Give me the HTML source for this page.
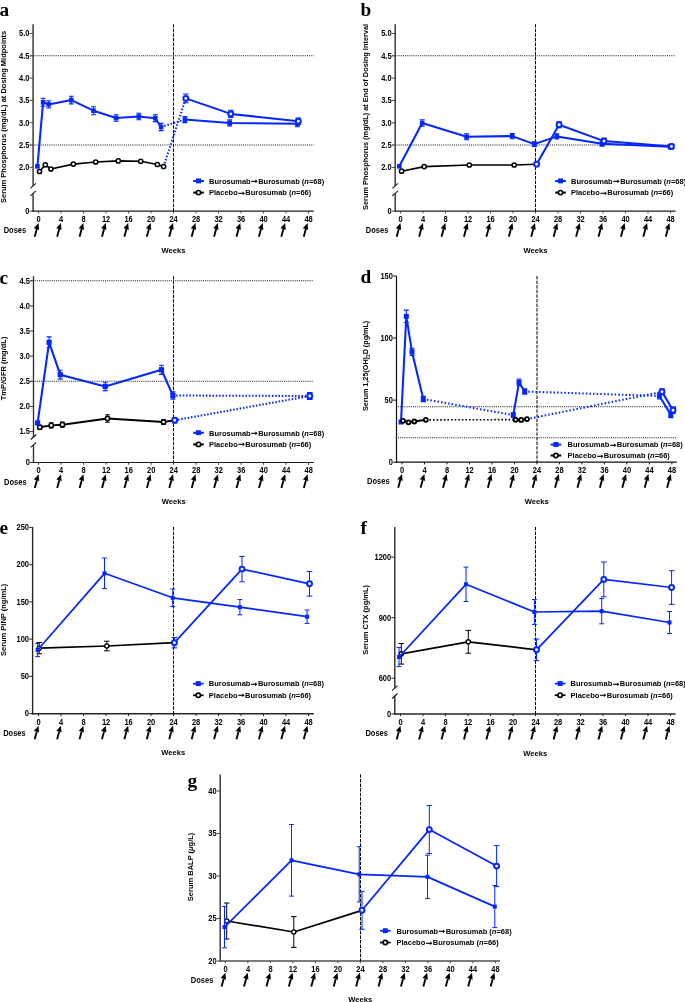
<!DOCTYPE html>
<html lang="en">
<head>
<meta charset="utf-8">
<title>Figure: burosumab vs placebo, serum markers over 48 weeks</title>
<style>
html,body{margin:0;padding:0;background:#fff;}
body{width:685px;height:1002px;overflow:hidden;}
svg{display:block;}
.t{font-family:"Liberation Sans",Arial,Helvetica,sans-serif;font-weight:bold;font-size:8.3px;fill:#000;}
.yl{font-family:"Liberation Sans",Arial,Helvetica,sans-serif;font-weight:bold;font-size:7.5px;fill:#000;}
.wk{font-family:"Liberation Sans",Arial,Helvetica,sans-serif;font-weight:bold;font-size:7.6px;fill:#000;}
.lg{font-family:"Liberation Sans",Arial,Helvetica,sans-serif;font-weight:bold;font-size:8px;fill:#000;}
.ar{font-size:10.3px;stroke:#000;stroke-width:0.45px;}
.pl{font-family:"Liberation Serif","Times New Roman",Times,serif;font-weight:bold;font-size:19.3px;fill:#000;}
</style>
</head>
<body>
<svg width="685" height="1002" viewBox="0 0 685 1002">
<rect width="685" height="1002" fill="#fff"/>
<g>
<text class="pl" x="-0.4" y="16">a</text>
<line x1="30.1" y1="55.83" x2="313.8" y2="55.83" stroke="#111" stroke-width="1.05" stroke-dasharray="1 1.13"/>
<line x1="30.1" y1="145.09" x2="313.8" y2="145.09" stroke="#111" stroke-width="1.05" stroke-dasharray="1 1.13"/>
<line x1="33.1" y1="24.2" x2="33.1" y2="185.8" stroke="#484848" stroke-width="1.6"/>
<line x1="33.1" y1="193.4" x2="33.1" y2="212" stroke="#484848" stroke-width="1.6"/>
<line x1="30.3" y1="188.3" x2="35.9" y2="183.3" stroke="#1a1a1a" stroke-width="1.1"/>
<line x1="30.3" y1="195.9" x2="35.9" y2="190.9" stroke="#1a1a1a" stroke-width="1.1"/>
<line x1="32.3" y1="211.2" x2="313.8" y2="211.2" stroke="#1c1c1c" stroke-width="1.2"/>
<line x1="29.7" y1="167.4" x2="33.1" y2="167.4" stroke="#484848" stroke-width="1"/>
<text class="t" transform="translate(29.5 170.25) scale(0.904 1)" text-anchor="end">2.0</text>
<line x1="29.7" y1="145.09" x2="33.1" y2="145.09" stroke="#484848" stroke-width="1"/>
<text class="t" transform="translate(29.5 147.94) scale(0.904 1)" text-anchor="end">2.5</text>
<line x1="29.7" y1="122.77" x2="33.1" y2="122.77" stroke="#484848" stroke-width="1"/>
<text class="t" transform="translate(29.5 125.62) scale(0.904 1)" text-anchor="end">3.0</text>
<line x1="29.7" y1="100.45" x2="33.1" y2="100.45" stroke="#484848" stroke-width="1"/>
<text class="t" transform="translate(29.5 103.3) scale(0.904 1)" text-anchor="end">3.5</text>
<line x1="29.7" y1="78.14" x2="33.1" y2="78.14" stroke="#484848" stroke-width="1"/>
<text class="t" transform="translate(29.5 80.99) scale(0.904 1)" text-anchor="end">4.0</text>
<line x1="29.7" y1="55.83" x2="33.1" y2="55.83" stroke="#484848" stroke-width="1"/>
<text class="t" transform="translate(29.5 58.68) scale(0.904 1)" text-anchor="end">4.5</text>
<line x1="29.7" y1="33.51" x2="33.1" y2="33.51" stroke="#484848" stroke-width="1"/>
<text class="t" transform="translate(29.5 36.36) scale(0.904 1)" text-anchor="end">5.0</text>
<line x1="29.7" y1="211.2" x2="33.1" y2="211.2" stroke="#484848" stroke-width="1"/>
<text class="t" transform="translate(29.5 214.05) scale(0.904 1)" text-anchor="end">0</text>
<line x1="38.5" y1="211.2" x2="38.5" y2="213.4" stroke="#484848" stroke-width="1"/>
<text class="t" transform="translate(38.6 221.9) scale(0.904 1)" text-anchor="middle">0</text>
<g transform="translate(38.5 223.5)"><path d="M-3.8 13.2L-1.7 5.4" stroke="#000" stroke-width="1.85" fill="none"/><path d="M0 -0.5L0.6 6.4L-1.6 5.4L-4.7 4.8Z" fill="#000"/></g>
<line x1="61" y1="211.2" x2="61" y2="213.4" stroke="#484848" stroke-width="1"/>
<text class="t" transform="translate(61.1 221.9) scale(0.904 1)" text-anchor="middle">4</text>
<g transform="translate(60.92 223.5)"><path d="M-3.8 13.2L-1.7 5.4" stroke="#000" stroke-width="1.85" fill="none"/><path d="M0 -0.5L0.6 6.4L-1.6 5.4L-4.7 4.8Z" fill="#000"/></g>
<line x1="83.5" y1="211.2" x2="83.5" y2="213.4" stroke="#484848" stroke-width="1"/>
<text class="t" transform="translate(83.6 221.9) scale(0.904 1)" text-anchor="middle">8</text>
<g transform="translate(83.34 223.5)"><path d="M-3.8 13.2L-1.7 5.4" stroke="#000" stroke-width="1.85" fill="none"/><path d="M0 -0.5L0.6 6.4L-1.6 5.4L-4.7 4.8Z" fill="#000"/></g>
<line x1="106" y1="211.2" x2="106" y2="213.4" stroke="#484848" stroke-width="1"/>
<text class="t" transform="translate(106.1 221.9) scale(0.904 1)" text-anchor="middle">12</text>
<g transform="translate(105.76 223.5)"><path d="M-3.8 13.2L-1.7 5.4" stroke="#000" stroke-width="1.85" fill="none"/><path d="M0 -0.5L0.6 6.4L-1.6 5.4L-4.7 4.8Z" fill="#000"/></g>
<line x1="128.5" y1="211.2" x2="128.5" y2="213.4" stroke="#484848" stroke-width="1"/>
<text class="t" transform="translate(128.6 221.9) scale(0.904 1)" text-anchor="middle">16</text>
<g transform="translate(128.18 223.5)"><path d="M-3.8 13.2L-1.7 5.4" stroke="#000" stroke-width="1.85" fill="none"/><path d="M0 -0.5L0.6 6.4L-1.6 5.4L-4.7 4.8Z" fill="#000"/></g>
<line x1="151" y1="211.2" x2="151" y2="213.4" stroke="#484848" stroke-width="1"/>
<text class="t" transform="translate(151.1 221.9) scale(0.904 1)" text-anchor="middle">20</text>
<g transform="translate(150.6 223.5)"><path d="M-3.8 13.2L-1.7 5.4" stroke="#000" stroke-width="1.85" fill="none"/><path d="M0 -0.5L0.6 6.4L-1.6 5.4L-4.7 4.8Z" fill="#000"/></g>
<line x1="173.5" y1="211.2" x2="173.5" y2="213.4" stroke="#484848" stroke-width="1"/>
<text class="t" transform="translate(173.6 221.9) scale(0.904 1)" text-anchor="middle">24</text>
<g transform="translate(173.02 223.5)"><path d="M-3.8 13.2L-1.7 5.4" stroke="#000" stroke-width="1.85" fill="none"/><path d="M0 -0.5L0.6 6.4L-1.6 5.4L-4.7 4.8Z" fill="#000"/></g>
<line x1="196" y1="211.2" x2="196" y2="213.4" stroke="#484848" stroke-width="1"/>
<text class="t" transform="translate(196.1 221.9) scale(0.904 1)" text-anchor="middle">28</text>
<g transform="translate(195.44 223.5)"><path d="M-3.8 13.2L-1.7 5.4" stroke="#000" stroke-width="1.85" fill="none"/><path d="M0 -0.5L0.6 6.4L-1.6 5.4L-4.7 4.8Z" fill="#000"/></g>
<line x1="218.5" y1="211.2" x2="218.5" y2="213.4" stroke="#484848" stroke-width="1"/>
<text class="t" transform="translate(218.6 221.9) scale(0.904 1)" text-anchor="middle">32</text>
<g transform="translate(217.86 223.5)"><path d="M-3.8 13.2L-1.7 5.4" stroke="#000" stroke-width="1.85" fill="none"/><path d="M0 -0.5L0.6 6.4L-1.6 5.4L-4.7 4.8Z" fill="#000"/></g>
<line x1="241" y1="211.2" x2="241" y2="213.4" stroke="#484848" stroke-width="1"/>
<text class="t" transform="translate(241.1 221.9) scale(0.904 1)" text-anchor="middle">36</text>
<g transform="translate(240.28 223.5)"><path d="M-3.8 13.2L-1.7 5.4" stroke="#000" stroke-width="1.85" fill="none"/><path d="M0 -0.5L0.6 6.4L-1.6 5.4L-4.7 4.8Z" fill="#000"/></g>
<line x1="263.5" y1="211.2" x2="263.5" y2="213.4" stroke="#484848" stroke-width="1"/>
<text class="t" transform="translate(263.6 221.9) scale(0.904 1)" text-anchor="middle">40</text>
<g transform="translate(262.7 223.5)"><path d="M-3.8 13.2L-1.7 5.4" stroke="#000" stroke-width="1.85" fill="none"/><path d="M0 -0.5L0.6 6.4L-1.6 5.4L-4.7 4.8Z" fill="#000"/></g>
<line x1="286" y1="211.2" x2="286" y2="213.4" stroke="#484848" stroke-width="1"/>
<text class="t" transform="translate(286.1 221.9) scale(0.904 1)" text-anchor="middle">44</text>
<g transform="translate(285.12 223.5)"><path d="M-3.8 13.2L-1.7 5.4" stroke="#000" stroke-width="1.85" fill="none"/><path d="M0 -0.5L0.6 6.4L-1.6 5.4L-4.7 4.8Z" fill="#000"/></g>
<line x1="308.5" y1="211.2" x2="308.5" y2="213.4" stroke="#484848" stroke-width="1"/>
<text class="t" transform="translate(308.6 221.9) scale(0.904 1)" text-anchor="middle">48</text>
<g transform="translate(307.54 223.5)"><path d="M-3.8 13.2L-1.7 5.4" stroke="#000" stroke-width="1.85" fill="none"/><path d="M0 -0.5L0.6 6.4L-1.6 5.4L-4.7 4.8Z" fill="#000"/></g>
<text class="t" transform="translate(3.7 233.2) scale(0.904 1)">Doses</text>
<text class="wk" x="173.55" y="252.8" text-anchor="middle">Weeks</text>
<line x1="173.5" y1="24.2" x2="173.5" y2="211.2" stroke="#000" stroke-width="1.0" stroke-dasharray="3.4 1.2"/>
<text class="yl" text-anchor="middle" transform="translate(5.5 116.9) rotate(-90) scale(1 0.9)">Serum Phosphorus (mg/dL) at Dosing Midpoints</text>
</g>
<g>
<line x1="193.2" y1="181" x2="203.8" y2="181" stroke="#0426ff" stroke-width="2.05"/>
<rect x="196" y="178.45" width="5" height="4.9" fill="#0426ff"/>
<text class="lg" transform="translate(209 183.7) scale(0.9375 1)">Burosumab<tspan class="ar" dx="-1.15" dy="-0.7">&#8594;</tspan><tspan dx="-1.15" dy="0.7">Burosumab (</tspan><tspan font-style="italic">n</tspan>=68)</text>
<line x1="193.2" y1="192.6" x2="203.8" y2="192.6" stroke="#000" stroke-width="2.05"/>
<circle cx="198.5" cy="192.6" r="2.15" fill="#fff" stroke="#000" stroke-width="1.6"/>
<text class="lg" transform="translate(209 195.3) scale(0.9375 1)">Placebo<tspan class="ar" dx="-1.15" dy="-0.7">&#8594;</tspan><tspan dx="-1.15" dy="0.7">Burosumab (</tspan><tspan font-style="italic">n</tspan>=66)</text>
</g>
<polyline fill="none" stroke="#0426ff" stroke-width="2.05" stroke-dasharray="1.5 1.8" stroke-linejoin="round" points="161.1,127 184.9,119.6"/>
<polyline fill="none" stroke="#0426ff" stroke-width="2.05" stroke-dasharray="1.5 1.8" stroke-linejoin="round" points="163.6,166.6 185.8,98.4"/>
<polyline fill="none" stroke="#000" stroke-width="1.65" stroke-linejoin="round" points="39.5,171.5 45.3,164.8 50.9,169 73.4,164.1 95.7,162 118.3,160.9 140.7,161.3 157.4,164.5 163.6,166.6"/>
<circle cx="39.5" cy="171.5" r="2.1" fill="#fff" stroke="#000" stroke-width="1.5"/>
<circle cx="45.3" cy="164.8" r="2.1" fill="#fff" stroke="#000" stroke-width="1.5"/>
<circle cx="50.9" cy="169" r="2.1" fill="#fff" stroke="#000" stroke-width="1.5"/>
<circle cx="73.4" cy="164.1" r="2.1" fill="#fff" stroke="#000" stroke-width="1.5"/>
<circle cx="95.7" cy="162" r="2.1" fill="#fff" stroke="#000" stroke-width="1.5"/>
<circle cx="118.3" cy="160.9" r="2.1" fill="#fff" stroke="#000" stroke-width="1.5"/>
<circle cx="140.7" cy="161.3" r="2.1" fill="#fff" stroke="#000" stroke-width="1.5"/>
<circle cx="157.4" cy="164.5" r="2.1" fill="#fff" stroke="#000" stroke-width="1.5"/>
<circle cx="163.6" cy="166.6" r="2.1" fill="#fff" stroke="#000" stroke-width="1.5"/>
<path d="M40.6 98.3H45.6M43.1 98.3V106.3M40.6 106.3H45.6" stroke="#0426ff" stroke-width="1.1" fill="none"/>
<path d="M46.2 100.8H51.2M48.7 100.8V108M46.2 108H51.2" stroke="#0426ff" stroke-width="1.1" fill="none"/>
<path d="M68.8 96.3H73.8M71.3 96.3V103.9M68.8 103.9H73.8" stroke="#0426ff" stroke-width="1.1" fill="none"/>
<path d="M91 106.7H96M93.5 106.7V114.7M91 114.7H96" stroke="#0426ff" stroke-width="1.1" fill="none"/>
<path d="M113.6 114.8H118.6M116.1 114.8V121.2M113.6 121.2H118.6" stroke="#0426ff" stroke-width="1.1" fill="none"/>
<path d="M136.3 113.3H141.3M138.8 113.3V119.7M136.3 119.7H141.3" stroke="#0426ff" stroke-width="1.1" fill="none"/>
<path d="M152.8 114.8H157.8M155.3 114.8V121.6M152.8 121.6H157.8" stroke="#0426ff" stroke-width="1.1" fill="none"/>
<path d="M158.6 123.4H163.6M161.1 123.4V130.6M158.6 130.6H163.6" stroke="#0426ff" stroke-width="1.1" fill="none"/>
<polyline fill="none" stroke="#0426ff" stroke-width="2.05" stroke-linejoin="round" points="37.4,166.4 43.1,102.3 48.7,104.4 71.3,100.1 93.5,110.7 116.1,118 138.8,116.5 155.3,118.2 161.1,127"/>
<rect x="35.1" y="164.1" width="4.6" height="4.6" fill="#0426ff"/>
<rect x="40.8" y="100" width="4.6" height="4.6" fill="#0426ff"/>
<rect x="46.4" y="102.1" width="4.6" height="4.6" fill="#0426ff"/>
<rect x="69" y="97.8" width="4.6" height="4.6" fill="#0426ff"/>
<rect x="91.2" y="108.4" width="4.6" height="4.6" fill="#0426ff"/>
<rect x="113.8" y="115.7" width="4.6" height="4.6" fill="#0426ff"/>
<rect x="136.5" y="114.2" width="4.6" height="4.6" fill="#0426ff"/>
<rect x="153" y="115.9" width="4.6" height="4.6" fill="#0426ff"/>
<rect x="158.8" y="124.7" width="4.6" height="4.6" fill="#0426ff"/>
<path d="M182.4 116.6H187.4M184.9 116.6V122.6M182.4 122.6H187.4" stroke="#0426ff" stroke-width="1.1" fill="none"/>
<path d="M227.2 119.9H232.2M229.7 119.9V125.9M227.2 125.9H232.2" stroke="#0426ff" stroke-width="1.1" fill="none"/>
<path d="M294.9 120.8H299.9M297.4 120.8V126.8M294.9 126.8H299.9" stroke="#0426ff" stroke-width="1.1" fill="none"/>
<polyline fill="none" stroke="#0426ff" stroke-width="2.05" stroke-linejoin="round" points="184.9,119.6 229.7,122.9 297.4,123.8"/>
<rect x="182.6" y="117.3" width="4.6" height="4.6" fill="#0426ff"/>
<rect x="227.4" y="120.6" width="4.6" height="4.6" fill="#0426ff"/>
<rect x="295.1" y="121.5" width="4.6" height="4.6" fill="#0426ff"/>
<path d="M183 94H188.6M185.8 94V102.8M183 102.8H188.6" stroke="#0426ff" stroke-width="1.1" fill="none"/>
<path d="M228 110.3H233.6M230.8 110.3V117.5M228 117.5H233.6" stroke="#0426ff" stroke-width="1.1" fill="none"/>
<path d="M295.5 118H301.1M298.3 118V124.4M295.5 124.4H301.1" stroke="#0426ff" stroke-width="1.1" fill="none"/>
<polyline fill="none" stroke="#0426ff" stroke-width="2.05" stroke-linejoin="round" points="185.8,98.4 230.8,113.9 298.3,121.2"/>
<circle cx="185.8" cy="98.4" r="2.45" fill="#fff" stroke="#0426ff" stroke-width="2"/>
<circle cx="230.8" cy="113.9" r="2.45" fill="#fff" stroke="#0426ff" stroke-width="2"/>
<circle cx="298.3" cy="121.2" r="2.45" fill="#fff" stroke="#0426ff" stroke-width="2"/>
<g>
<text class="pl" x="360.6" y="16">b</text>
<line x1="392.2" y1="55.83" x2="675.6" y2="55.83" stroke="#111" stroke-width="1.05" stroke-dasharray="1 1.13"/>
<line x1="392.2" y1="145.09" x2="675.6" y2="145.09" stroke="#111" stroke-width="1.05" stroke-dasharray="1 1.13"/>
<line x1="395.2" y1="24.2" x2="395.2" y2="185.8" stroke="#484848" stroke-width="1.6"/>
<line x1="395.2" y1="193.4" x2="395.2" y2="212" stroke="#484848" stroke-width="1.6"/>
<line x1="392.4" y1="188.3" x2="398" y2="183.3" stroke="#1a1a1a" stroke-width="1.1"/>
<line x1="392.4" y1="195.9" x2="398" y2="190.9" stroke="#1a1a1a" stroke-width="1.1"/>
<line x1="394.4" y1="211.2" x2="675.6" y2="211.2" stroke="#1c1c1c" stroke-width="1.2"/>
<line x1="391.8" y1="167.4" x2="395.2" y2="167.4" stroke="#484848" stroke-width="1"/>
<text class="t" transform="translate(391.6 170.25) scale(0.904 1)" text-anchor="end">2.0</text>
<line x1="391.8" y1="145.09" x2="395.2" y2="145.09" stroke="#484848" stroke-width="1"/>
<text class="t" transform="translate(391.6 147.94) scale(0.904 1)" text-anchor="end">2.5</text>
<line x1="391.8" y1="122.77" x2="395.2" y2="122.77" stroke="#484848" stroke-width="1"/>
<text class="t" transform="translate(391.6 125.62) scale(0.904 1)" text-anchor="end">3.0</text>
<line x1="391.8" y1="100.45" x2="395.2" y2="100.45" stroke="#484848" stroke-width="1"/>
<text class="t" transform="translate(391.6 103.3) scale(0.904 1)" text-anchor="end">3.5</text>
<line x1="391.8" y1="78.14" x2="395.2" y2="78.14" stroke="#484848" stroke-width="1"/>
<text class="t" transform="translate(391.6 80.99) scale(0.904 1)" text-anchor="end">4.0</text>
<line x1="391.8" y1="55.83" x2="395.2" y2="55.83" stroke="#484848" stroke-width="1"/>
<text class="t" transform="translate(391.6 58.68) scale(0.904 1)" text-anchor="end">4.5</text>
<line x1="391.8" y1="33.51" x2="395.2" y2="33.51" stroke="#484848" stroke-width="1"/>
<text class="t" transform="translate(391.6 36.36) scale(0.904 1)" text-anchor="end">5.0</text>
<line x1="391.8" y1="211.2" x2="395.2" y2="211.2" stroke="#484848" stroke-width="1"/>
<text class="t" transform="translate(391.6 214.05) scale(0.904 1)" text-anchor="end">0</text>
<line x1="400.5" y1="211.2" x2="400.5" y2="213.4" stroke="#484848" stroke-width="1"/>
<text class="t" transform="translate(400.6 221.9) scale(0.904 1)" text-anchor="middle">0</text>
<g transform="translate(400.5 223.5)"><path d="M-3.8 13.2L-1.7 5.4" stroke="#000" stroke-width="1.85" fill="none"/><path d="M0 -0.5L0.6 6.4L-1.6 5.4L-4.7 4.8Z" fill="#000"/></g>
<line x1="423" y1="211.2" x2="423" y2="213.4" stroke="#484848" stroke-width="1"/>
<text class="t" transform="translate(423.1 221.9) scale(0.904 1)" text-anchor="middle">4</text>
<g transform="translate(422.92 223.5)"><path d="M-3.8 13.2L-1.7 5.4" stroke="#000" stroke-width="1.85" fill="none"/><path d="M0 -0.5L0.6 6.4L-1.6 5.4L-4.7 4.8Z" fill="#000"/></g>
<line x1="445.5" y1="211.2" x2="445.5" y2="213.4" stroke="#484848" stroke-width="1"/>
<text class="t" transform="translate(445.6 221.9) scale(0.904 1)" text-anchor="middle">8</text>
<g transform="translate(445.34 223.5)"><path d="M-3.8 13.2L-1.7 5.4" stroke="#000" stroke-width="1.85" fill="none"/><path d="M0 -0.5L0.6 6.4L-1.6 5.4L-4.7 4.8Z" fill="#000"/></g>
<line x1="468" y1="211.2" x2="468" y2="213.4" stroke="#484848" stroke-width="1"/>
<text class="t" transform="translate(468.1 221.9) scale(0.904 1)" text-anchor="middle">12</text>
<g transform="translate(467.76 223.5)"><path d="M-3.8 13.2L-1.7 5.4" stroke="#000" stroke-width="1.85" fill="none"/><path d="M0 -0.5L0.6 6.4L-1.6 5.4L-4.7 4.8Z" fill="#000"/></g>
<line x1="490.5" y1="211.2" x2="490.5" y2="213.4" stroke="#484848" stroke-width="1"/>
<text class="t" transform="translate(490.6 221.9) scale(0.904 1)" text-anchor="middle">16</text>
<g transform="translate(490.18 223.5)"><path d="M-3.8 13.2L-1.7 5.4" stroke="#000" stroke-width="1.85" fill="none"/><path d="M0 -0.5L0.6 6.4L-1.6 5.4L-4.7 4.8Z" fill="#000"/></g>
<line x1="513" y1="211.2" x2="513" y2="213.4" stroke="#484848" stroke-width="1"/>
<text class="t" transform="translate(513.1 221.9) scale(0.904 1)" text-anchor="middle">20</text>
<g transform="translate(512.6 223.5)"><path d="M-3.8 13.2L-1.7 5.4" stroke="#000" stroke-width="1.85" fill="none"/><path d="M0 -0.5L0.6 6.4L-1.6 5.4L-4.7 4.8Z" fill="#000"/></g>
<line x1="535.5" y1="211.2" x2="535.5" y2="213.4" stroke="#484848" stroke-width="1"/>
<text class="t" transform="translate(535.6 221.9) scale(0.904 1)" text-anchor="middle">24</text>
<g transform="translate(535.02 223.5)"><path d="M-3.8 13.2L-1.7 5.4" stroke="#000" stroke-width="1.85" fill="none"/><path d="M0 -0.5L0.6 6.4L-1.6 5.4L-4.7 4.8Z" fill="#000"/></g>
<line x1="558" y1="211.2" x2="558" y2="213.4" stroke="#484848" stroke-width="1"/>
<text class="t" transform="translate(558.1 221.9) scale(0.904 1)" text-anchor="middle">28</text>
<g transform="translate(557.44 223.5)"><path d="M-3.8 13.2L-1.7 5.4" stroke="#000" stroke-width="1.85" fill="none"/><path d="M0 -0.5L0.6 6.4L-1.6 5.4L-4.7 4.8Z" fill="#000"/></g>
<line x1="580.5" y1="211.2" x2="580.5" y2="213.4" stroke="#484848" stroke-width="1"/>
<text class="t" transform="translate(580.6 221.9) scale(0.904 1)" text-anchor="middle">32</text>
<g transform="translate(579.86 223.5)"><path d="M-3.8 13.2L-1.7 5.4" stroke="#000" stroke-width="1.85" fill="none"/><path d="M0 -0.5L0.6 6.4L-1.6 5.4L-4.7 4.8Z" fill="#000"/></g>
<line x1="603" y1="211.2" x2="603" y2="213.4" stroke="#484848" stroke-width="1"/>
<text class="t" transform="translate(603.1 221.9) scale(0.904 1)" text-anchor="middle">36</text>
<g transform="translate(602.28 223.5)"><path d="M-3.8 13.2L-1.7 5.4" stroke="#000" stroke-width="1.85" fill="none"/><path d="M0 -0.5L0.6 6.4L-1.6 5.4L-4.7 4.8Z" fill="#000"/></g>
<line x1="625.5" y1="211.2" x2="625.5" y2="213.4" stroke="#484848" stroke-width="1"/>
<text class="t" transform="translate(625.6 221.9) scale(0.904 1)" text-anchor="middle">40</text>
<g transform="translate(624.7 223.5)"><path d="M-3.8 13.2L-1.7 5.4" stroke="#000" stroke-width="1.85" fill="none"/><path d="M0 -0.5L0.6 6.4L-1.6 5.4L-4.7 4.8Z" fill="#000"/></g>
<line x1="648" y1="211.2" x2="648" y2="213.4" stroke="#484848" stroke-width="1"/>
<text class="t" transform="translate(648.1 221.9) scale(0.904 1)" text-anchor="middle">44</text>
<g transform="translate(647.12 223.5)"><path d="M-3.8 13.2L-1.7 5.4" stroke="#000" stroke-width="1.85" fill="none"/><path d="M0 -0.5L0.6 6.4L-1.6 5.4L-4.7 4.8Z" fill="#000"/></g>
<line x1="670.5" y1="211.2" x2="670.5" y2="213.4" stroke="#484848" stroke-width="1"/>
<text class="t" transform="translate(670.6 221.9) scale(0.904 1)" text-anchor="middle">48</text>
<g transform="translate(669.54 223.5)"><path d="M-3.8 13.2L-1.7 5.4" stroke="#000" stroke-width="1.85" fill="none"/><path d="M0 -0.5L0.6 6.4L-1.6 5.4L-4.7 4.8Z" fill="#000"/></g>
<text class="t" transform="translate(365.8 233.2) scale(0.904 1)">Doses</text>
<text class="wk" x="535.5" y="252.8" text-anchor="middle">Weeks</text>
<line x1="535.5" y1="24.2" x2="535.5" y2="211.2" stroke="#000" stroke-width="1.0" stroke-dasharray="3.4 1.2"/>
<text class="yl" text-anchor="middle" textLength="186" lengthAdjust="spacingAndGlyphs" transform="translate(367.5 116.9) rotate(-90) scale(1 0.9)">Serum Phosphorus (mg/dL) at End of Dosing Interval</text>
</g>
<g>
<line x1="555.2" y1="181" x2="565.8" y2="181" stroke="#0426ff" stroke-width="2.05"/>
<rect x="558" y="178.45" width="5" height="4.9" fill="#0426ff"/>
<text class="lg" transform="translate(571 183.7) scale(0.9375 1)">Burosumab<tspan class="ar" dx="-1.15" dy="-0.7">&#8594;</tspan><tspan dx="-1.15" dy="0.7">Burosumab (</tspan><tspan font-style="italic">n</tspan>=68)</text>
<line x1="555.2" y1="192.6" x2="565.8" y2="192.6" stroke="#000" stroke-width="2.05"/>
<circle cx="560.5" cy="192.6" r="2.15" fill="#fff" stroke="#000" stroke-width="1.6"/>
<text class="lg" transform="translate(571 195.3) scale(0.9375 1)">Placebo<tspan class="ar" dx="-1.15" dy="-0.7">&#8594;</tspan><tspan dx="-1.15" dy="0.7">Burosumab (</tspan><tspan font-style="italic">n</tspan>=66)</text>
</g>
<polyline fill="none" stroke="#000" stroke-width="1.65" stroke-linejoin="round" points="401.6,171.2 424.2,166.6 469.3,165 514.2,165 536.6,164.3"/>
<circle cx="401.6" cy="171.2" r="2.1" fill="#fff" stroke="#000" stroke-width="1.5"/>
<circle cx="424.2" cy="166.6" r="2.1" fill="#fff" stroke="#000" stroke-width="1.5"/>
<circle cx="469.3" cy="165" r="2.1" fill="#fff" stroke="#000" stroke-width="1.5"/>
<circle cx="514.2" cy="165" r="2.1" fill="#fff" stroke="#000" stroke-width="1.5"/>
<path d="M419.7 119.8H424.7M422.2 119.8V126.2M419.7 126.2H424.7" stroke="#0426ff" stroke-width="1.1" fill="none"/>
<path d="M464.1 133.8H469.1M466.6 133.8V139.8M464.1 139.8H469.1" stroke="#0426ff" stroke-width="1.1" fill="none"/>
<path d="M509.7 133.5H514.7M512.2 133.5V138.7M509.7 138.7H514.7" stroke="#0426ff" stroke-width="1.1" fill="none"/>
<path d="M531.9 141.7H536.9M534.4 141.7V146.5M531.9 146.5H536.9" stroke="#0426ff" stroke-width="1.1" fill="none"/>
<path d="M554.3 133.8H559.3M556.8 133.8V139M554.3 139H559.3" stroke="#0426ff" stroke-width="1.1" fill="none"/>
<path d="M599.6 141.3H604.6M602.1 141.3V146.1M599.6 146.1H604.6" stroke="#0426ff" stroke-width="1.1" fill="none"/>
<path d="M667.8 144.5H672.8M670.3 144.5V148.9M667.8 148.9H672.8" stroke="#0426ff" stroke-width="1.1" fill="none"/>
<polyline fill="none" stroke="#0426ff" stroke-width="2.05" stroke-linejoin="round" points="399.3,166.3 422.2,123 466.6,136.8 512.2,136.1 534.4,144.1 556.8,136.4 602.1,143.7 670.3,146.7"/>
<rect x="397" y="164" width="4.6" height="4.6" fill="#0426ff"/>
<rect x="419.9" y="120.7" width="4.6" height="4.6" fill="#0426ff"/>
<rect x="464.3" y="134.5" width="4.6" height="4.6" fill="#0426ff"/>
<rect x="509.9" y="133.8" width="4.6" height="4.6" fill="#0426ff"/>
<rect x="532.1" y="141.8" width="4.6" height="4.6" fill="#0426ff"/>
<rect x="554.5" y="134.1" width="4.6" height="4.6" fill="#0426ff"/>
<rect x="599.8" y="141.4" width="4.6" height="4.6" fill="#0426ff"/>
<rect x="668" y="144.4" width="4.6" height="4.6" fill="#0426ff"/>
<path d="M556.3 121.8H561.9M559.1 121.8V127.8M556.3 127.8H561.9" stroke="#0426ff" stroke-width="1.1" fill="none"/>
<path d="M601.2 138.1H606.8M604 138.1V144.1M601.2 144.1H606.8" stroke="#0426ff" stroke-width="1.1" fill="none"/>
<path d="M668.7 144.1H674.3M671.5 144.1V148.9M668.7 148.9H674.3" stroke="#0426ff" stroke-width="1.1" fill="none"/>
<polyline fill="none" stroke="#0426ff" stroke-width="2.05" stroke-linejoin="round" points="536.6,164.3 559.1,124.8 604,141.1 671.5,146.5"/>
<circle cx="536.6" cy="164.3" r="2.45" fill="#fff" stroke="#0426ff" stroke-width="2"/>
<circle cx="559.1" cy="124.8" r="2.45" fill="#fff" stroke="#0426ff" stroke-width="2"/>
<circle cx="604" cy="141.1" r="2.45" fill="#fff" stroke="#0426ff" stroke-width="2"/>
<circle cx="671.5" cy="146.5" r="2.45" fill="#fff" stroke="#0426ff" stroke-width="2"/>
<g>
<text class="pl" x="-0.4" y="283.5">c</text>
<line x1="30.5" y1="280.7" x2="313.8" y2="280.7" stroke="#111" stroke-width="1.05" stroke-dasharray="1 1.13"/>
<line x1="30.5" y1="381.3" x2="313.8" y2="381.3" stroke="#111" stroke-width="1.05" stroke-dasharray="1 1.13"/>
<line x1="33.5" y1="276.2" x2="33.5" y2="437" stroke="#303030" stroke-width="1.35"/>
<line x1="33.5" y1="444.8" x2="33.5" y2="463.18" stroke="#303030" stroke-width="1.35"/>
<line x1="30.7" y1="439.5" x2="36.3" y2="434.5" stroke="#1a1a1a" stroke-width="1.1"/>
<line x1="30.7" y1="447.3" x2="36.3" y2="442.3" stroke="#1a1a1a" stroke-width="1.1"/>
<line x1="32.83" y1="462.5" x2="313.8" y2="462.5" stroke="#1c1c1c" stroke-width="1.2"/>
<line x1="30.1" y1="431.6" x2="33.5" y2="431.6" stroke="#303030" stroke-width="1"/>
<text class="t" transform="translate(29.9 434.45) scale(0.904 1)" text-anchor="end">1.5</text>
<line x1="30.1" y1="406.45" x2="33.5" y2="406.45" stroke="#303030" stroke-width="1"/>
<text class="t" transform="translate(29.9 409.3) scale(0.904 1)" text-anchor="end">2.0</text>
<line x1="30.1" y1="381.3" x2="33.5" y2="381.3" stroke="#303030" stroke-width="1"/>
<text class="t" transform="translate(29.9 384.15) scale(0.904 1)" text-anchor="end">2.5</text>
<line x1="30.1" y1="356.15" x2="33.5" y2="356.15" stroke="#303030" stroke-width="1"/>
<text class="t" transform="translate(29.9 359) scale(0.904 1)" text-anchor="end">3.0</text>
<line x1="30.1" y1="331" x2="33.5" y2="331" stroke="#303030" stroke-width="1"/>
<text class="t" transform="translate(29.9 333.85) scale(0.904 1)" text-anchor="end">3.5</text>
<line x1="30.1" y1="305.85" x2="33.5" y2="305.85" stroke="#303030" stroke-width="1"/>
<text class="t" transform="translate(29.9 308.7) scale(0.904 1)" text-anchor="end">4.0</text>
<line x1="30.1" y1="280.7" x2="33.5" y2="280.7" stroke="#303030" stroke-width="1"/>
<text class="t" transform="translate(29.9 283.55) scale(0.904 1)" text-anchor="end">4.5</text>
<line x1="30.1" y1="462.5" x2="33.5" y2="462.5" stroke="#303030" stroke-width="1"/>
<text class="t" transform="translate(29.9 465.35) scale(0.904 1)" text-anchor="end">0</text>
<line x1="38.6" y1="462.5" x2="38.6" y2="464.7" stroke="#303030" stroke-width="1"/>
<text class="t" transform="translate(38.7 473.2) scale(0.904 1)" text-anchor="middle">0</text>
<g transform="translate(38.6 474.8)"><path d="M-3.8 13.2L-1.7 5.4" stroke="#000" stroke-width="1.85" fill="none"/><path d="M0 -0.5L0.6 6.4L-1.6 5.4L-4.7 4.8Z" fill="#000"/></g>
<line x1="61.1" y1="462.5" x2="61.1" y2="464.7" stroke="#303030" stroke-width="1"/>
<text class="t" transform="translate(61.2 473.2) scale(0.904 1)" text-anchor="middle">4</text>
<g transform="translate(61.02 474.8)"><path d="M-3.8 13.2L-1.7 5.4" stroke="#000" stroke-width="1.85" fill="none"/><path d="M0 -0.5L0.6 6.4L-1.6 5.4L-4.7 4.8Z" fill="#000"/></g>
<line x1="83.6" y1="462.5" x2="83.6" y2="464.7" stroke="#303030" stroke-width="1"/>
<text class="t" transform="translate(83.7 473.2) scale(0.904 1)" text-anchor="middle">8</text>
<g transform="translate(83.44 474.8)"><path d="M-3.8 13.2L-1.7 5.4" stroke="#000" stroke-width="1.85" fill="none"/><path d="M0 -0.5L0.6 6.4L-1.6 5.4L-4.7 4.8Z" fill="#000"/></g>
<line x1="106.1" y1="462.5" x2="106.1" y2="464.7" stroke="#303030" stroke-width="1"/>
<text class="t" transform="translate(106.2 473.2) scale(0.904 1)" text-anchor="middle">12</text>
<g transform="translate(105.86 474.8)"><path d="M-3.8 13.2L-1.7 5.4" stroke="#000" stroke-width="1.85" fill="none"/><path d="M0 -0.5L0.6 6.4L-1.6 5.4L-4.7 4.8Z" fill="#000"/></g>
<line x1="128.6" y1="462.5" x2="128.6" y2="464.7" stroke="#303030" stroke-width="1"/>
<text class="t" transform="translate(128.7 473.2) scale(0.904 1)" text-anchor="middle">16</text>
<g transform="translate(128.28 474.8)"><path d="M-3.8 13.2L-1.7 5.4" stroke="#000" stroke-width="1.85" fill="none"/><path d="M0 -0.5L0.6 6.4L-1.6 5.4L-4.7 4.8Z" fill="#000"/></g>
<line x1="151.1" y1="462.5" x2="151.1" y2="464.7" stroke="#303030" stroke-width="1"/>
<text class="t" transform="translate(151.2 473.2) scale(0.904 1)" text-anchor="middle">20</text>
<g transform="translate(150.7 474.8)"><path d="M-3.8 13.2L-1.7 5.4" stroke="#000" stroke-width="1.85" fill="none"/><path d="M0 -0.5L0.6 6.4L-1.6 5.4L-4.7 4.8Z" fill="#000"/></g>
<line x1="173.6" y1="462.5" x2="173.6" y2="464.7" stroke="#303030" stroke-width="1"/>
<text class="t" transform="translate(173.7 473.2) scale(0.904 1)" text-anchor="middle">24</text>
<g transform="translate(173.12 474.8)"><path d="M-3.8 13.2L-1.7 5.4" stroke="#000" stroke-width="1.85" fill="none"/><path d="M0 -0.5L0.6 6.4L-1.6 5.4L-4.7 4.8Z" fill="#000"/></g>
<line x1="196.1" y1="462.5" x2="196.1" y2="464.7" stroke="#303030" stroke-width="1"/>
<text class="t" transform="translate(196.2 473.2) scale(0.904 1)" text-anchor="middle">28</text>
<g transform="translate(195.54 474.8)"><path d="M-3.8 13.2L-1.7 5.4" stroke="#000" stroke-width="1.85" fill="none"/><path d="M0 -0.5L0.6 6.4L-1.6 5.4L-4.7 4.8Z" fill="#000"/></g>
<line x1="218.6" y1="462.5" x2="218.6" y2="464.7" stroke="#303030" stroke-width="1"/>
<text class="t" transform="translate(218.7 473.2) scale(0.904 1)" text-anchor="middle">32</text>
<g transform="translate(217.96 474.8)"><path d="M-3.8 13.2L-1.7 5.4" stroke="#000" stroke-width="1.85" fill="none"/><path d="M0 -0.5L0.6 6.4L-1.6 5.4L-4.7 4.8Z" fill="#000"/></g>
<line x1="241.1" y1="462.5" x2="241.1" y2="464.7" stroke="#303030" stroke-width="1"/>
<text class="t" transform="translate(241.2 473.2) scale(0.904 1)" text-anchor="middle">36</text>
<g transform="translate(240.38 474.8)"><path d="M-3.8 13.2L-1.7 5.4" stroke="#000" stroke-width="1.85" fill="none"/><path d="M0 -0.5L0.6 6.4L-1.6 5.4L-4.7 4.8Z" fill="#000"/></g>
<line x1="263.6" y1="462.5" x2="263.6" y2="464.7" stroke="#303030" stroke-width="1"/>
<text class="t" transform="translate(263.7 473.2) scale(0.904 1)" text-anchor="middle">40</text>
<g transform="translate(262.8 474.8)"><path d="M-3.8 13.2L-1.7 5.4" stroke="#000" stroke-width="1.85" fill="none"/><path d="M0 -0.5L0.6 6.4L-1.6 5.4L-4.7 4.8Z" fill="#000"/></g>
<line x1="286.1" y1="462.5" x2="286.1" y2="464.7" stroke="#303030" stroke-width="1"/>
<text class="t" transform="translate(286.2 473.2) scale(0.904 1)" text-anchor="middle">44</text>
<g transform="translate(285.22 474.8)"><path d="M-3.8 13.2L-1.7 5.4" stroke="#000" stroke-width="1.85" fill="none"/><path d="M0 -0.5L0.6 6.4L-1.6 5.4L-4.7 4.8Z" fill="#000"/></g>
<line x1="308.6" y1="462.5" x2="308.6" y2="464.7" stroke="#303030" stroke-width="1"/>
<text class="t" transform="translate(308.7 473.2) scale(0.904 1)" text-anchor="middle">48</text>
<g transform="translate(307.64 474.8)"><path d="M-3.8 13.2L-1.7 5.4" stroke="#000" stroke-width="1.85" fill="none"/><path d="M0 -0.5L0.6 6.4L-1.6 5.4L-4.7 4.8Z" fill="#000"/></g>
<text class="t" transform="translate(4.1 484.5) scale(0.904 1)">Doses</text>
<text class="wk" x="173.75" y="504.1" text-anchor="middle">Weeks</text>
<line x1="173.5" y1="276.2" x2="173.5" y2="462.5" stroke="#000" stroke-width="1.0" stroke-dasharray="3.4 1.2"/>
<text class="yl" text-anchor="middle" transform="translate(5.5 368.4) rotate(-90) scale(1 0.9)">TmP/GFR (mg/dL)</text>
</g>
<g>
<line x1="193.2" y1="432.8" x2="203.8" y2="432.8" stroke="#0426ff" stroke-width="2.05"/>
<rect x="196" y="430.25" width="5" height="4.9" fill="#0426ff"/>
<text class="lg" transform="translate(209 435.5) scale(0.9375 1)">Burosumab<tspan class="ar" dx="-1.15" dy="-0.7">&#8594;</tspan><tspan dx="-1.15" dy="0.7">Burosumab (</tspan><tspan font-style="italic">n</tspan>=68)</text>
<line x1="193.2" y1="444.4" x2="203.8" y2="444.4" stroke="#000" stroke-width="2.05"/>
<circle cx="198.5" cy="444.4" r="2.15" fill="#fff" stroke="#000" stroke-width="1.6"/>
<text class="lg" transform="translate(209 447.1) scale(0.9375 1)">Placebo<tspan class="ar" dx="-1.15" dy="-0.7">&#8594;</tspan><tspan dx="-1.15" dy="0.7">Burosumab (</tspan><tspan font-style="italic">n</tspan>=66)</text>
</g>
<polyline fill="none" stroke="#0426ff" stroke-width="2.05" stroke-dasharray="1.5 1.8" stroke-linejoin="round" points="172.9,395.5 309.4,396"/>
<polyline fill="none" stroke="#0426ff" stroke-width="2.05" stroke-dasharray="1.5 1.8" stroke-linejoin="round" points="174.7,420.3 309.8,396"/>
<path d="M37.5 425.3H42.1M39.8 425.3V429.3M37.5 429.3H42.1" stroke="#000" stroke-width="1.1" fill="none"/>
<path d="M48.9 422.8H53.5M51.2 422.8V428M48.9 428H53.5" stroke="#000" stroke-width="1.1" fill="none"/>
<path d="M60.1 422.1H64.7M62.4 422.1V427.3M60.1 427.3H64.7" stroke="#000" stroke-width="1.1" fill="none"/>
<path d="M105.2 414.7H109.8M107.5 414.7V422.3M105.2 422.3H109.8" stroke="#000" stroke-width="1.1" fill="none"/>
<path d="M161.3 419.6H165.9M163.6 419.6V424.4M161.3 424.4H165.9" stroke="#000" stroke-width="1.1" fill="none"/>
<polyline fill="none" stroke="#000" stroke-width="1.9" stroke-linejoin="round" points="39.8,427.3 51.2,425.4 62.4,424.7 107.5,418.5 163.6,422 174.7,420.3"/>
<circle cx="39.8" cy="427.3" r="2.15" fill="#fff" stroke="#000" stroke-width="1.6"/>
<circle cx="51.2" cy="425.4" r="2.15" fill="#fff" stroke="#000" stroke-width="1.6"/>
<circle cx="62.4" cy="424.7" r="2.15" fill="#fff" stroke="#000" stroke-width="1.6"/>
<circle cx="107.5" cy="418.5" r="2.15" fill="#fff" stroke="#000" stroke-width="1.6"/>
<circle cx="163.6" cy="422" r="2.15" fill="#fff" stroke="#000" stroke-width="1.6"/>
<path d="M46.6 336.9H51.6M49.1 336.9V347.7M46.6 347.7H51.6" stroke="#0426ff" stroke-width="1.1" fill="none"/>
<path d="M57.7 370.3H62.7M60.2 370.3V379.1M57.7 379.1H62.7" stroke="#0426ff" stroke-width="1.1" fill="none"/>
<path d="M102.7 382.2H107.7M105.2 382.2V390.6M102.7 390.6H107.7" stroke="#0426ff" stroke-width="1.1" fill="none"/>
<path d="M159 365.2H164M161.5 365.2V374.4M159 374.4H164" stroke="#0426ff" stroke-width="1.1" fill="none"/>
<path d="M170.4 391.9H175.4M172.9 391.9V399.1M170.4 399.1H175.4" stroke="#0426ff" stroke-width="1.1" fill="none"/>
<polyline fill="none" stroke="#0426ff" stroke-width="2.05" stroke-linejoin="round" points="37.6,422.9 49.1,342.3 60.2,374.7 105.2,386.4 161.5,369.8 172.9,395.5"/>
<rect x="35" y="420.3" width="5.2" height="5.2" fill="#0426ff"/>
<rect x="46.5" y="339.7" width="5.2" height="5.2" fill="#0426ff"/>
<rect x="57.6" y="372.1" width="5.2" height="5.2" fill="#0426ff"/>
<rect x="102.6" y="383.8" width="5.2" height="5.2" fill="#0426ff"/>
<rect x="158.9" y="367.2" width="5.2" height="5.2" fill="#0426ff"/>
<rect x="170.3" y="392.9" width="5.2" height="5.2" fill="#0426ff"/>
<path d="M306.9 392.6H311.9M309.4 392.6V399.4M306.9 399.4H311.9" stroke="#0426ff" stroke-width="1.1" fill="none"/>
<polyline fill="none" stroke="#0426ff" stroke-width="2.05" stroke-linejoin="round" points="309.4,396"/>
<rect x="306.8" y="393.4" width="5.2" height="5.2" fill="#0426ff"/>
<path d="M171.9 417.7H177.5M174.7 417.7V422.9M171.9 422.9H177.5" stroke="#0426ff" stroke-width="1.1" fill="none"/>
<polyline fill="none" stroke="#0426ff" stroke-width="2.05" stroke-linejoin="round" points="174.7,420.3"/>
<circle cx="174.7" cy="420.3" r="2.45" fill="#fff" stroke="#0426ff" stroke-width="2"/>
<path d="M307 392.6H312.6M309.8 392.6V399.4M307 399.4H312.6" stroke="#0426ff" stroke-width="1.1" fill="none"/>
<polyline fill="none" stroke="#0426ff" stroke-width="2.05" stroke-linejoin="round" points="309.8,396"/>
<circle cx="309.8" cy="396" r="2.45" fill="#fff" stroke="#0426ff" stroke-width="2"/>
<g>
<text class="pl" x="360.6" y="283.3">d</text>
<line x1="398" y1="406.74" x2="676.8" y2="406.74" stroke="#111" stroke-width="1.05" stroke-dasharray="1 1.13"/>
<line x1="398" y1="437.77" x2="676.8" y2="437.77" stroke="#111" stroke-width="1.05" stroke-dasharray="1 1.13"/>
<line x1="396.5" y1="276" x2="396.5" y2="462.8" stroke="#111" stroke-width="1.2"/>
<line x1="395.9" y1="462.2" x2="676.8" y2="462.2" stroke="#111" stroke-width="1.2"/>
<line x1="393.1" y1="462.2" x2="396.5" y2="462.2" stroke="#111" stroke-width="1"/>
<text class="t" transform="translate(392.9 465.05) scale(0.904 1)" text-anchor="end">0</text>
<line x1="393.1" y1="400.13" x2="396.5" y2="400.13" stroke="#111" stroke-width="1"/>
<text class="t" transform="translate(392.9 402.98) scale(0.904 1)" text-anchor="end">50</text>
<line x1="393.1" y1="338.06" x2="396.5" y2="338.06" stroke="#111" stroke-width="1"/>
<text class="t" transform="translate(392.9 340.91) scale(0.904 1)" text-anchor="end">100</text>
<line x1="393.1" y1="275.99" x2="396.5" y2="275.99" stroke="#111" stroke-width="1"/>
<text class="t" transform="translate(392.9 278.84) scale(0.904 1)" text-anchor="end">150</text>
<line x1="402" y1="462.2" x2="402" y2="464.4" stroke="#111" stroke-width="1"/>
<text class="t" transform="translate(402.1 472.9) scale(0.904 1)" text-anchor="middle">0</text>
<g transform="translate(402 474.5)"><path d="M-3.8 13.2L-1.7 5.4" stroke="#000" stroke-width="1.85" fill="none"/><path d="M0 -0.5L0.6 6.4L-1.6 5.4L-4.7 4.8Z" fill="#000"/></g>
<line x1="424.49" y1="462.2" x2="424.49" y2="464.4" stroke="#111" stroke-width="1"/>
<text class="t" transform="translate(424.59 472.9) scale(0.904 1)" text-anchor="middle">4</text>
<g transform="translate(424.41 474.5)"><path d="M-3.8 13.2L-1.7 5.4" stroke="#000" stroke-width="1.85" fill="none"/><path d="M0 -0.5L0.6 6.4L-1.6 5.4L-4.7 4.8Z" fill="#000"/></g>
<line x1="446.98" y1="462.2" x2="446.98" y2="464.4" stroke="#111" stroke-width="1"/>
<text class="t" transform="translate(447.08 472.9) scale(0.904 1)" text-anchor="middle">8</text>
<g transform="translate(446.82 474.5)"><path d="M-3.8 13.2L-1.7 5.4" stroke="#000" stroke-width="1.85" fill="none"/><path d="M0 -0.5L0.6 6.4L-1.6 5.4L-4.7 4.8Z" fill="#000"/></g>
<line x1="469.46" y1="462.2" x2="469.46" y2="464.4" stroke="#111" stroke-width="1"/>
<text class="t" transform="translate(469.56 472.9) scale(0.904 1)" text-anchor="middle">12</text>
<g transform="translate(469.22 474.5)"><path d="M-3.8 13.2L-1.7 5.4" stroke="#000" stroke-width="1.85" fill="none"/><path d="M0 -0.5L0.6 6.4L-1.6 5.4L-4.7 4.8Z" fill="#000"/></g>
<line x1="491.95" y1="462.2" x2="491.95" y2="464.4" stroke="#111" stroke-width="1"/>
<text class="t" transform="translate(492.05 472.9) scale(0.904 1)" text-anchor="middle">16</text>
<g transform="translate(491.63 474.5)"><path d="M-3.8 13.2L-1.7 5.4" stroke="#000" stroke-width="1.85" fill="none"/><path d="M0 -0.5L0.6 6.4L-1.6 5.4L-4.7 4.8Z" fill="#000"/></g>
<line x1="514.44" y1="462.2" x2="514.44" y2="464.4" stroke="#111" stroke-width="1"/>
<text class="t" transform="translate(514.54 472.9) scale(0.904 1)" text-anchor="middle">20</text>
<g transform="translate(514.04 474.5)"><path d="M-3.8 13.2L-1.7 5.4" stroke="#000" stroke-width="1.85" fill="none"/><path d="M0 -0.5L0.6 6.4L-1.6 5.4L-4.7 4.8Z" fill="#000"/></g>
<line x1="536.93" y1="462.2" x2="536.93" y2="464.4" stroke="#111" stroke-width="1"/>
<text class="t" transform="translate(537.03 472.9) scale(0.904 1)" text-anchor="middle">24</text>
<g transform="translate(536.45 474.5)"><path d="M-3.8 13.2L-1.7 5.4" stroke="#000" stroke-width="1.85" fill="none"/><path d="M0 -0.5L0.6 6.4L-1.6 5.4L-4.7 4.8Z" fill="#000"/></g>
<line x1="559.42" y1="462.2" x2="559.42" y2="464.4" stroke="#111" stroke-width="1"/>
<text class="t" transform="translate(559.52 472.9) scale(0.904 1)" text-anchor="middle">28</text>
<g transform="translate(558.86 474.5)"><path d="M-3.8 13.2L-1.7 5.4" stroke="#000" stroke-width="1.85" fill="none"/><path d="M0 -0.5L0.6 6.4L-1.6 5.4L-4.7 4.8Z" fill="#000"/></g>
<line x1="581.9" y1="462.2" x2="581.9" y2="464.4" stroke="#111" stroke-width="1"/>
<text class="t" transform="translate(582 472.9) scale(0.904 1)" text-anchor="middle">32</text>
<g transform="translate(581.26 474.5)"><path d="M-3.8 13.2L-1.7 5.4" stroke="#000" stroke-width="1.85" fill="none"/><path d="M0 -0.5L0.6 6.4L-1.6 5.4L-4.7 4.8Z" fill="#000"/></g>
<line x1="604.39" y1="462.2" x2="604.39" y2="464.4" stroke="#111" stroke-width="1"/>
<text class="t" transform="translate(604.49 472.9) scale(0.904 1)" text-anchor="middle">36</text>
<g transform="translate(603.67 474.5)"><path d="M-3.8 13.2L-1.7 5.4" stroke="#000" stroke-width="1.85" fill="none"/><path d="M0 -0.5L0.6 6.4L-1.6 5.4L-4.7 4.8Z" fill="#000"/></g>
<line x1="626.88" y1="462.2" x2="626.88" y2="464.4" stroke="#111" stroke-width="1"/>
<text class="t" transform="translate(626.98 472.9) scale(0.904 1)" text-anchor="middle">40</text>
<g transform="translate(626.08 474.5)"><path d="M-3.8 13.2L-1.7 5.4" stroke="#000" stroke-width="1.85" fill="none"/><path d="M0 -0.5L0.6 6.4L-1.6 5.4L-4.7 4.8Z" fill="#000"/></g>
<line x1="649.37" y1="462.2" x2="649.37" y2="464.4" stroke="#111" stroke-width="1"/>
<text class="t" transform="translate(649.47 472.9) scale(0.904 1)" text-anchor="middle">44</text>
<g transform="translate(648.49 474.5)"><path d="M-3.8 13.2L-1.7 5.4" stroke="#000" stroke-width="1.85" fill="none"/><path d="M0 -0.5L0.6 6.4L-1.6 5.4L-4.7 4.8Z" fill="#000"/></g>
<line x1="671.86" y1="462.2" x2="671.86" y2="464.4" stroke="#111" stroke-width="1"/>
<text class="t" transform="translate(671.96 472.9) scale(0.904 1)" text-anchor="middle">48</text>
<g transform="translate(670.9 474.5)"><path d="M-3.8 13.2L-1.7 5.4" stroke="#000" stroke-width="1.85" fill="none"/><path d="M0 -0.5L0.6 6.4L-1.6 5.4L-4.7 4.8Z" fill="#000"/></g>
<text class="t" transform="translate(367.1 484.2) scale(0.904 1)">Doses</text>
<text class="wk" x="536.75" y="503.8" text-anchor="middle">Weeks</text>
<line x1="537" y1="276" x2="537" y2="462.2" stroke="#000" stroke-width="1.0" stroke-dasharray="3.4 1.2"/>
<text class="yl" text-anchor="middle" textLength="90.3" lengthAdjust="spacingAndGlyphs" transform="translate(368.4 365.9) rotate(-90) scale(1 0.9)">Serum 1,25(OH)<tspan dy="1.8" font-size="5">2</tspan><tspan dy="-1.8">D (pg/mL)</tspan></text>
</g>
<g>
<line x1="550.6" y1="444.6" x2="561.2" y2="444.6" stroke="#0426ff" stroke-width="2.05"/>
<rect x="553.4" y="442.05" width="5" height="4.9" fill="#0426ff"/>
<text class="lg" transform="translate(567.6 447.3) scale(0.9375 1)">Burosumab<tspan class="ar" dx="-1.15" dy="-0.7">&#8594;</tspan><tspan dx="-1.15" dy="0.7">Burosumab (</tspan><tspan font-style="italic">n</tspan>=68)</text>
<line x1="550.6" y1="455.5" x2="561.2" y2="455.5" stroke="#000" stroke-width="2.05"/>
<circle cx="555.9" cy="455.5" r="2.15" fill="#fff" stroke="#000" stroke-width="1.6"/>
<text class="lg" transform="translate(567.6 458.2) scale(0.9375 1)">Placebo<tspan class="ar" dx="-1.15" dy="-0.7">&#8594;</tspan><tspan dx="-1.15" dy="0.7">Burosumab (</tspan><tspan font-style="italic">n</tspan>=66)</text>
</g>
<polyline fill="none" stroke="#0426ff" stroke-width="2.05" stroke-dasharray="1.5 2.1" stroke-linejoin="round" points="423.3,399 513.3,415.1"/>
<polyline fill="none" stroke="#0426ff" stroke-width="2.05" stroke-dasharray="1.5 2.1" stroke-linejoin="round" points="524.7,391.5 659.4,396"/>
<polyline fill="none" stroke="#0426ff" stroke-width="2.05" stroke-dasharray="1.5 2.1" stroke-linejoin="round" points="527,419.1 662,391.8"/>
<polyline fill="none" stroke="#000" stroke-width="1.7" stroke-dasharray="1.6 2.0" stroke-linejoin="round" points="425.8,419.8 515.6,419.7"/>
<path d="M403.8 310.1H408.8M406.3 310.1V322.5M403.8 322.5H408.8" stroke="#0426ff" stroke-width="1.1" fill="none"/>
<path d="M409.5 348.2H414.5M412 348.2V355.4M409.5 355.4H414.5" stroke="#0426ff" stroke-width="1.1" fill="none"/>
<path d="M420.8 396.4H425.8M423.3 396.4V401.6M420.8 401.6H425.8" stroke="#0426ff" stroke-width="1.1" fill="none"/>
<polyline fill="none" stroke="#0426ff" stroke-width="2.05" stroke-linejoin="round" points="401,422 406.3,316.3 412,351.8 423.3,399"/>
<rect x="398.5" y="419.5" width="5" height="5" fill="#0426ff"/>
<rect x="403.8" y="313.8" width="5" height="5" fill="#0426ff"/>
<rect x="409.5" y="349.3" width="5" height="5" fill="#0426ff"/>
<rect x="420.8" y="396.5" width="5" height="5" fill="#0426ff"/>
<path d="M510.8 412.7H515.8M513.3 412.7V417.5M510.8 417.5H515.8" stroke="#0426ff" stroke-width="1.1" fill="none"/>
<path d="M516.5 379H521.5M519 379V385.8M516.5 385.8H521.5" stroke="#0426ff" stroke-width="1.1" fill="none"/>
<path d="M522.2 388.9H527.2M524.7 388.9V394.1M522.2 394.1H527.2" stroke="#0426ff" stroke-width="1.1" fill="none"/>
<polyline fill="none" stroke="#0426ff" stroke-width="2.05" stroke-linejoin="round" points="513.3,415.1 519,382.4 524.7,391.5"/>
<rect x="510.8" y="412.6" width="5" height="5" fill="#0426ff"/>
<rect x="516.5" y="379.9" width="5" height="5" fill="#0426ff"/>
<rect x="522.2" y="389" width="5" height="5" fill="#0426ff"/>
<path d="M656.9 393H661.9M659.4 393V399M656.9 399H661.9" stroke="#0426ff" stroke-width="1.1" fill="none"/>
<path d="M668.3 411.6H673.3M670.8 411.6V417.6M668.3 417.6H673.3" stroke="#0426ff" stroke-width="1.1" fill="none"/>
<polyline fill="none" stroke="#0426ff" stroke-width="2.05" stroke-linejoin="round" points="659.4,396 670.8,414.6"/>
<rect x="656.9" y="393.5" width="5" height="5" fill="#0426ff"/>
<rect x="668.3" y="412.1" width="5" height="5" fill="#0426ff"/>
<polyline fill="none" stroke="#000" stroke-width="1.9" stroke-linejoin="round" points="403,420.8 408.5,422.3 414.3,421.5 425.8,419.8"/>
<circle cx="403" cy="420.8" r="2" fill="#fff" stroke="#000" stroke-width="1.85"/>
<circle cx="408.5" cy="422.3" r="2" fill="#fff" stroke="#000" stroke-width="1.85"/>
<circle cx="414.3" cy="421.5" r="2" fill="#fff" stroke="#000" stroke-width="1.85"/>
<circle cx="425.8" cy="419.8" r="2" fill="#fff" stroke="#000" stroke-width="1.85"/>
<polyline fill="none" stroke="#000" stroke-width="1.9" stroke-linejoin="round" points="515.6,419.7 521.2,419.9 527,419.1"/>
<circle cx="515.6" cy="419.7" r="2" fill="#fff" stroke="#000" stroke-width="1.85"/>
<circle cx="521.2" cy="419.9" r="2" fill="#fff" stroke="#000" stroke-width="1.85"/>
<circle cx="527" cy="419.1" r="2" fill="#fff" stroke="#000" stroke-width="1.85"/>
<path d="M659.2 388.8H664.8M662 388.8V394.8M659.2 394.8H664.8" stroke="#0426ff" stroke-width="1.1" fill="none"/>
<path d="M670.2 407.1H675.8M673 407.1V413.5M670.2 413.5H675.8" stroke="#0426ff" stroke-width="1.1" fill="none"/>
<polyline fill="none" stroke="#0426ff" stroke-width="2.05" stroke-linejoin="round" points="662,391.8 673,410.3"/>
<circle cx="662" cy="391.8" r="2.45" fill="#fff" stroke="#0426ff" stroke-width="2"/>
<circle cx="673" cy="410.3" r="2.45" fill="#fff" stroke="#0426ff" stroke-width="2"/>
<g>
<text class="pl" x="-0.4" y="534">e</text>
<line x1="32.6" y1="527" x2="32.6" y2="714.52" stroke="#222" stroke-width="1.35"/>
<line x1="31.93" y1="713.85" x2="313.8" y2="713.85" stroke="#262626" stroke-width="1.5"/>
<line x1="29.2" y1="713.6" x2="32.6" y2="713.6" stroke="#222" stroke-width="1"/>
<text class="t" transform="translate(29 716.45) scale(0.904 1)" text-anchor="end">0</text>
<line x1="29.2" y1="676.36" x2="32.6" y2="676.36" stroke="#222" stroke-width="1"/>
<text class="t" transform="translate(29 679.21) scale(0.904 1)" text-anchor="end">50</text>
<line x1="29.2" y1="639.12" x2="32.6" y2="639.12" stroke="#222" stroke-width="1"/>
<text class="t" transform="translate(29 641.97) scale(0.904 1)" text-anchor="end">100</text>
<line x1="29.2" y1="601.88" x2="32.6" y2="601.88" stroke="#222" stroke-width="1"/>
<text class="t" transform="translate(29 604.73) scale(0.904 1)" text-anchor="end">150</text>
<line x1="29.2" y1="564.64" x2="32.6" y2="564.64" stroke="#222" stroke-width="1"/>
<text class="t" transform="translate(29 567.49) scale(0.904 1)" text-anchor="end">200</text>
<line x1="29.2" y1="527.4" x2="32.6" y2="527.4" stroke="#222" stroke-width="1"/>
<text class="t" transform="translate(29 530.25) scale(0.904 1)" text-anchor="end">250</text>
<line x1="38.5" y1="713.85" x2="38.5" y2="716.05" stroke="#222" stroke-width="1"/>
<text class="t" transform="translate(38.6 724.55) scale(0.904 1)" text-anchor="middle">0</text>
<g transform="translate(38.5 726.15)"><path d="M-3.8 13.2L-1.7 5.4" stroke="#000" stroke-width="1.85" fill="none"/><path d="M0 -0.5L0.6 6.4L-1.6 5.4L-4.7 4.8Z" fill="#000"/></g>
<line x1="61" y1="713.85" x2="61" y2="716.05" stroke="#222" stroke-width="1"/>
<text class="t" transform="translate(61.1 724.55) scale(0.904 1)" text-anchor="middle">4</text>
<g transform="translate(60.92 726.15)"><path d="M-3.8 13.2L-1.7 5.4" stroke="#000" stroke-width="1.85" fill="none"/><path d="M0 -0.5L0.6 6.4L-1.6 5.4L-4.7 4.8Z" fill="#000"/></g>
<line x1="83.5" y1="713.85" x2="83.5" y2="716.05" stroke="#222" stroke-width="1"/>
<text class="t" transform="translate(83.6 724.55) scale(0.904 1)" text-anchor="middle">8</text>
<g transform="translate(83.34 726.15)"><path d="M-3.8 13.2L-1.7 5.4" stroke="#000" stroke-width="1.85" fill="none"/><path d="M0 -0.5L0.6 6.4L-1.6 5.4L-4.7 4.8Z" fill="#000"/></g>
<line x1="106" y1="713.85" x2="106" y2="716.05" stroke="#222" stroke-width="1"/>
<text class="t" transform="translate(106.1 724.55) scale(0.904 1)" text-anchor="middle">12</text>
<g transform="translate(105.76 726.15)"><path d="M-3.8 13.2L-1.7 5.4" stroke="#000" stroke-width="1.85" fill="none"/><path d="M0 -0.5L0.6 6.4L-1.6 5.4L-4.7 4.8Z" fill="#000"/></g>
<line x1="128.5" y1="713.85" x2="128.5" y2="716.05" stroke="#222" stroke-width="1"/>
<text class="t" transform="translate(128.6 724.55) scale(0.904 1)" text-anchor="middle">16</text>
<g transform="translate(128.18 726.15)"><path d="M-3.8 13.2L-1.7 5.4" stroke="#000" stroke-width="1.85" fill="none"/><path d="M0 -0.5L0.6 6.4L-1.6 5.4L-4.7 4.8Z" fill="#000"/></g>
<line x1="151" y1="713.85" x2="151" y2="716.05" stroke="#222" stroke-width="1"/>
<text class="t" transform="translate(151.1 724.55) scale(0.904 1)" text-anchor="middle">20</text>
<g transform="translate(150.6 726.15)"><path d="M-3.8 13.2L-1.7 5.4" stroke="#000" stroke-width="1.85" fill="none"/><path d="M0 -0.5L0.6 6.4L-1.6 5.4L-4.7 4.8Z" fill="#000"/></g>
<line x1="173.5" y1="713.85" x2="173.5" y2="716.05" stroke="#222" stroke-width="1"/>
<text class="t" transform="translate(173.6 724.55) scale(0.904 1)" text-anchor="middle">24</text>
<g transform="translate(173.02 726.15)"><path d="M-3.8 13.2L-1.7 5.4" stroke="#000" stroke-width="1.85" fill="none"/><path d="M0 -0.5L0.6 6.4L-1.6 5.4L-4.7 4.8Z" fill="#000"/></g>
<line x1="196" y1="713.85" x2="196" y2="716.05" stroke="#222" stroke-width="1"/>
<text class="t" transform="translate(196.1 724.55) scale(0.904 1)" text-anchor="middle">28</text>
<g transform="translate(195.44 726.15)"><path d="M-3.8 13.2L-1.7 5.4" stroke="#000" stroke-width="1.85" fill="none"/><path d="M0 -0.5L0.6 6.4L-1.6 5.4L-4.7 4.8Z" fill="#000"/></g>
<line x1="218.5" y1="713.85" x2="218.5" y2="716.05" stroke="#222" stroke-width="1"/>
<text class="t" transform="translate(218.6 724.55) scale(0.904 1)" text-anchor="middle">32</text>
<g transform="translate(217.86 726.15)"><path d="M-3.8 13.2L-1.7 5.4" stroke="#000" stroke-width="1.85" fill="none"/><path d="M0 -0.5L0.6 6.4L-1.6 5.4L-4.7 4.8Z" fill="#000"/></g>
<line x1="241" y1="713.85" x2="241" y2="716.05" stroke="#222" stroke-width="1"/>
<text class="t" transform="translate(241.1 724.55) scale(0.904 1)" text-anchor="middle">36</text>
<g transform="translate(240.28 726.15)"><path d="M-3.8 13.2L-1.7 5.4" stroke="#000" stroke-width="1.85" fill="none"/><path d="M0 -0.5L0.6 6.4L-1.6 5.4L-4.7 4.8Z" fill="#000"/></g>
<line x1="263.5" y1="713.85" x2="263.5" y2="716.05" stroke="#222" stroke-width="1"/>
<text class="t" transform="translate(263.6 724.55) scale(0.904 1)" text-anchor="middle">40</text>
<g transform="translate(262.7 726.15)"><path d="M-3.8 13.2L-1.7 5.4" stroke="#000" stroke-width="1.85" fill="none"/><path d="M0 -0.5L0.6 6.4L-1.6 5.4L-4.7 4.8Z" fill="#000"/></g>
<line x1="286" y1="713.85" x2="286" y2="716.05" stroke="#222" stroke-width="1"/>
<text class="t" transform="translate(286.1 724.55) scale(0.904 1)" text-anchor="middle">44</text>
<g transform="translate(285.12 726.15)"><path d="M-3.8 13.2L-1.7 5.4" stroke="#000" stroke-width="1.85" fill="none"/><path d="M0 -0.5L0.6 6.4L-1.6 5.4L-4.7 4.8Z" fill="#000"/></g>
<line x1="308.5" y1="713.85" x2="308.5" y2="716.05" stroke="#222" stroke-width="1"/>
<text class="t" transform="translate(308.6 724.55) scale(0.904 1)" text-anchor="middle">48</text>
<g transform="translate(307.54 726.15)"><path d="M-3.8 13.2L-1.7 5.4" stroke="#000" stroke-width="1.85" fill="none"/><path d="M0 -0.5L0.6 6.4L-1.6 5.4L-4.7 4.8Z" fill="#000"/></g>
<text class="t" transform="translate(3.2 735.85) scale(0.904 1)">Doses</text>
<text class="wk" x="173.3" y="755.45" text-anchor="middle">Weeks</text>
<line x1="173.5" y1="527" x2="173.5" y2="713.85" stroke="#000" stroke-width="1.0" stroke-dasharray="3.4 1.2"/>
<text class="yl" text-anchor="middle" transform="translate(5.5 619.9) rotate(-90) scale(1 0.9)">Serum PINP (ng/mL)</text>
</g>
<g>
<line x1="193" y1="683.7" x2="203.6" y2="683.7" stroke="#0426ff" stroke-width="1.75"/>
<rect x="195.8" y="681.15" width="5" height="4.9" fill="#0426ff"/>
<text class="lg" transform="translate(208.8 686.4) scale(0.9375 1)">Burosumab<tspan class="ar" dx="-1.15" dy="-0.7">&#8594;</tspan><tspan dx="-1.15" dy="0.7">Burosumab (</tspan><tspan font-style="italic">n</tspan>=68)</text>
<line x1="193" y1="695.3" x2="203.6" y2="695.3" stroke="#000" stroke-width="1.75"/>
<circle cx="198.3" cy="695.3" r="2.15" fill="#fff" stroke="#000" stroke-width="1.6"/>
<text class="lg" transform="translate(208.8 698) scale(0.9375 1)">Placebo<tspan class="ar" dx="-1.15" dy="-0.7">&#8594;</tspan><tspan dx="-1.15" dy="0.7">Burosumab (</tspan><tspan font-style="italic">n</tspan>=66)</text>
</g>
<path d="M36.4 642.6H42M39.2 642.6V653.8M36.4 653.8H42" stroke="#000" stroke-width="1.0" fill="none"/>
<path d="M104 641.2H109.6M106.8 641.2V650.8M104 650.8H109.6" stroke="#000" stroke-width="1.0" fill="none"/>
<polyline fill="none" stroke="#000" stroke-width="1.75" stroke-linejoin="round" points="39.2,648.2 106.8,646 174.4,642.7"/>
<circle cx="39.2" cy="648.2" r="2.1" fill="#fff" stroke="#000" stroke-width="1.4"/>
<circle cx="106.8" cy="646" r="2.1" fill="#fff" stroke="#000" stroke-width="1.4"/>
<path d="M35.15 643.4H40.05M37.6 643.4V656.6M35.15 656.6H40.05" stroke="#0426ff" stroke-width="1.0" fill="none"/>
<path d="M102.05 558H106.95M104.5 558V588.6M102.05 588.6H106.95" stroke="#0426ff" stroke-width="1.0" fill="none"/>
<path d="M170.25 589H175.15M172.7 589V606.6M170.25 606.6H175.15" stroke="#0426ff" stroke-width="1.0" fill="none"/>
<path d="M237.45 599.6H242.35M239.9 599.6V614.8M237.45 614.8H242.35" stroke="#0426ff" stroke-width="1.0" fill="none"/>
<path d="M304.65 610H309.55M307.1 610V623.4M304.65 623.4H309.55" stroke="#0426ff" stroke-width="1.0" fill="none"/>
<polyline fill="none" stroke="#0426ff" stroke-width="1.75" stroke-linejoin="round" points="37.6,650 104.5,573.3 172.7,597.8 239.9,607.2 307.1,616.7"/>
<rect x="35.6" y="648" width="4" height="4" fill="#0426ff"/>
<rect x="102.5" y="571.3" width="4" height="4" fill="#0426ff"/>
<rect x="170.7" y="595.8" width="4" height="4" fill="#0426ff"/>
<rect x="237.9" y="605.2" width="4" height="4" fill="#0426ff"/>
<rect x="305.1" y="614.7" width="4" height="4" fill="#0426ff"/>
<path d="M171.6 637.5H177.2M174.4 637.5V647.9M171.6 647.9H177.2" stroke="#0426ff" stroke-width="1.0" fill="none"/>
<path d="M239.2 556.4H244.8M242 556.4V581.8M239.2 581.8H244.8" stroke="#0426ff" stroke-width="1.0" fill="none"/>
<path d="M306.7 571.5H312.3M309.5 571.5V596.1M306.7 596.1H312.3" stroke="#0426ff" stroke-width="1.0" fill="none"/>
<polyline fill="none" stroke="#0426ff" stroke-width="1.75" stroke-linejoin="round" points="174.4,642.7 242,569.1 309.5,583.8"/>
<circle cx="174.4" cy="642.7" r="2.45" fill="#fff" stroke="#0426ff" stroke-width="2"/>
<circle cx="242" cy="569.1" r="2.45" fill="#fff" stroke="#0426ff" stroke-width="2"/>
<circle cx="309.5" cy="583.8" r="2.45" fill="#fff" stroke="#0426ff" stroke-width="2"/>
<g>
<text class="pl" x="360.6" y="534">f</text>
<line x1="394.8" y1="527" x2="394.8" y2="688.2" stroke="#222" stroke-width="1.35"/>
<line x1="394.8" y1="696" x2="394.8" y2="714.57" stroke="#222" stroke-width="1.35"/>
<line x1="392" y1="690.7" x2="397.6" y2="685.7" stroke="#1a1a1a" stroke-width="1.1"/>
<line x1="392" y1="698.5" x2="397.6" y2="693.5" stroke="#1a1a1a" stroke-width="1.1"/>
<line x1="394.12" y1="713.9" x2="675.6" y2="713.9" stroke="#262626" stroke-width="1.5"/>
<line x1="391.4" y1="678.2" x2="394.8" y2="678.2" stroke="#222" stroke-width="1"/>
<text class="t" transform="translate(391.2 681.05) scale(0.904 1)" text-anchor="end">600</text>
<line x1="391.4" y1="617.66" x2="394.8" y2="617.66" stroke="#222" stroke-width="1"/>
<text class="t" transform="translate(391.2 620.51) scale(0.904 1)" text-anchor="end">900</text>
<line x1="391.4" y1="557.12" x2="394.8" y2="557.12" stroke="#222" stroke-width="1"/>
<text class="t" transform="translate(391.2 559.97) scale(0.904 1)" text-anchor="end">1200</text>
<line x1="391.4" y1="713.9" x2="394.8" y2="713.9" stroke="#222" stroke-width="1"/>
<text class="t" transform="translate(391.2 716.75) scale(0.904 1)" text-anchor="end">0</text>
<line x1="400.5" y1="713.9" x2="400.5" y2="716.1" stroke="#222" stroke-width="1"/>
<text class="t" transform="translate(400.6 724.6) scale(0.904 1)" text-anchor="middle">0</text>
<g transform="translate(400.5 726.2)"><path d="M-3.8 13.2L-1.7 5.4" stroke="#000" stroke-width="1.85" fill="none"/><path d="M0 -0.5L0.6 6.4L-1.6 5.4L-4.7 4.8Z" fill="#000"/></g>
<line x1="423" y1="713.9" x2="423" y2="716.1" stroke="#222" stroke-width="1"/>
<text class="t" transform="translate(423.1 724.6) scale(0.904 1)" text-anchor="middle">4</text>
<g transform="translate(422.92 726.2)"><path d="M-3.8 13.2L-1.7 5.4" stroke="#000" stroke-width="1.85" fill="none"/><path d="M0 -0.5L0.6 6.4L-1.6 5.4L-4.7 4.8Z" fill="#000"/></g>
<line x1="445.5" y1="713.9" x2="445.5" y2="716.1" stroke="#222" stroke-width="1"/>
<text class="t" transform="translate(445.6 724.6) scale(0.904 1)" text-anchor="middle">8</text>
<g transform="translate(445.34 726.2)"><path d="M-3.8 13.2L-1.7 5.4" stroke="#000" stroke-width="1.85" fill="none"/><path d="M0 -0.5L0.6 6.4L-1.6 5.4L-4.7 4.8Z" fill="#000"/></g>
<line x1="468" y1="713.9" x2="468" y2="716.1" stroke="#222" stroke-width="1"/>
<text class="t" transform="translate(468.1 724.6) scale(0.904 1)" text-anchor="middle">12</text>
<g transform="translate(467.76 726.2)"><path d="M-3.8 13.2L-1.7 5.4" stroke="#000" stroke-width="1.85" fill="none"/><path d="M0 -0.5L0.6 6.4L-1.6 5.4L-4.7 4.8Z" fill="#000"/></g>
<line x1="490.5" y1="713.9" x2="490.5" y2="716.1" stroke="#222" stroke-width="1"/>
<text class="t" transform="translate(490.6 724.6) scale(0.904 1)" text-anchor="middle">16</text>
<g transform="translate(490.18 726.2)"><path d="M-3.8 13.2L-1.7 5.4" stroke="#000" stroke-width="1.85" fill="none"/><path d="M0 -0.5L0.6 6.4L-1.6 5.4L-4.7 4.8Z" fill="#000"/></g>
<line x1="513" y1="713.9" x2="513" y2="716.1" stroke="#222" stroke-width="1"/>
<text class="t" transform="translate(513.1 724.6) scale(0.904 1)" text-anchor="middle">20</text>
<g transform="translate(512.6 726.2)"><path d="M-3.8 13.2L-1.7 5.4" stroke="#000" stroke-width="1.85" fill="none"/><path d="M0 -0.5L0.6 6.4L-1.6 5.4L-4.7 4.8Z" fill="#000"/></g>
<line x1="535.5" y1="713.9" x2="535.5" y2="716.1" stroke="#222" stroke-width="1"/>
<text class="t" transform="translate(535.6 724.6) scale(0.904 1)" text-anchor="middle">24</text>
<g transform="translate(535.02 726.2)"><path d="M-3.8 13.2L-1.7 5.4" stroke="#000" stroke-width="1.85" fill="none"/><path d="M0 -0.5L0.6 6.4L-1.6 5.4L-4.7 4.8Z" fill="#000"/></g>
<line x1="558" y1="713.9" x2="558" y2="716.1" stroke="#222" stroke-width="1"/>
<text class="t" transform="translate(558.1 724.6) scale(0.904 1)" text-anchor="middle">28</text>
<g transform="translate(557.44 726.2)"><path d="M-3.8 13.2L-1.7 5.4" stroke="#000" stroke-width="1.85" fill="none"/><path d="M0 -0.5L0.6 6.4L-1.6 5.4L-4.7 4.8Z" fill="#000"/></g>
<line x1="580.5" y1="713.9" x2="580.5" y2="716.1" stroke="#222" stroke-width="1"/>
<text class="t" transform="translate(580.6 724.6) scale(0.904 1)" text-anchor="middle">32</text>
<g transform="translate(579.86 726.2)"><path d="M-3.8 13.2L-1.7 5.4" stroke="#000" stroke-width="1.85" fill="none"/><path d="M0 -0.5L0.6 6.4L-1.6 5.4L-4.7 4.8Z" fill="#000"/></g>
<line x1="603" y1="713.9" x2="603" y2="716.1" stroke="#222" stroke-width="1"/>
<text class="t" transform="translate(603.1 724.6) scale(0.904 1)" text-anchor="middle">36</text>
<g transform="translate(602.28 726.2)"><path d="M-3.8 13.2L-1.7 5.4" stroke="#000" stroke-width="1.85" fill="none"/><path d="M0 -0.5L0.6 6.4L-1.6 5.4L-4.7 4.8Z" fill="#000"/></g>
<line x1="625.5" y1="713.9" x2="625.5" y2="716.1" stroke="#222" stroke-width="1"/>
<text class="t" transform="translate(625.6 724.6) scale(0.904 1)" text-anchor="middle">40</text>
<g transform="translate(624.7 726.2)"><path d="M-3.8 13.2L-1.7 5.4" stroke="#000" stroke-width="1.85" fill="none"/><path d="M0 -0.5L0.6 6.4L-1.6 5.4L-4.7 4.8Z" fill="#000"/></g>
<line x1="648" y1="713.9" x2="648" y2="716.1" stroke="#222" stroke-width="1"/>
<text class="t" transform="translate(648.1 724.6) scale(0.904 1)" text-anchor="middle">44</text>
<g transform="translate(647.12 726.2)"><path d="M-3.8 13.2L-1.7 5.4" stroke="#000" stroke-width="1.85" fill="none"/><path d="M0 -0.5L0.6 6.4L-1.6 5.4L-4.7 4.8Z" fill="#000"/></g>
<line x1="670.5" y1="713.9" x2="670.5" y2="716.1" stroke="#222" stroke-width="1"/>
<text class="t" transform="translate(670.6 724.6) scale(0.904 1)" text-anchor="middle">48</text>
<g transform="translate(669.54 726.2)"><path d="M-3.8 13.2L-1.7 5.4" stroke="#000" stroke-width="1.85" fill="none"/><path d="M0 -0.5L0.6 6.4L-1.6 5.4L-4.7 4.8Z" fill="#000"/></g>
<text class="t" transform="translate(365.4 735.9) scale(0.904 1)">Doses</text>
<text class="wk" x="535.3" y="755.5" text-anchor="middle">Weeks</text>
<line x1="535.5" y1="527" x2="535.5" y2="713.9" stroke="#000" stroke-width="1.0" stroke-dasharray="3.4 1.2"/>
<text class="yl" text-anchor="middle" transform="translate(368 619.9) rotate(-90) scale(1 0.9)">Serum CTX (pg/mL)</text>
</g>
<g>
<line x1="554.8" y1="683.6" x2="565.4" y2="683.6" stroke="#0426ff" stroke-width="1.75"/>
<rect x="557.6" y="681.05" width="5" height="4.9" fill="#0426ff"/>
<text class="lg" transform="translate(570.6 686.3) scale(0.9375 1)">Burosumab<tspan class="ar" dx="-1.15" dy="-0.7">&#8594;</tspan><tspan dx="-1.15" dy="0.7">Burosumab (</tspan><tspan font-style="italic">n</tspan>=68)</text>
<line x1="554.8" y1="695.2" x2="565.4" y2="695.2" stroke="#000" stroke-width="1.75"/>
<circle cx="560.1" cy="695.2" r="2.15" fill="#fff" stroke="#000" stroke-width="1.6"/>
<text class="lg" transform="translate(570.6 697.9) scale(0.9375 1)">Placebo<tspan class="ar" dx="-1.15" dy="-0.7">&#8594;</tspan><tspan dx="-1.15" dy="0.7">Burosumab (</tspan><tspan font-style="italic">n</tspan>=66)</text>
</g>
<path d="M398.5 643.5H404.1M401.3 643.5V664.1M398.5 664.1H404.1" stroke="#000" stroke-width="1.0" fill="none"/>
<path d="M465.5 630.4H471.1M468.3 630.4V653.2M465.5 653.2H471.1" stroke="#000" stroke-width="1.0" fill="none"/>
<polyline fill="none" stroke="#000" stroke-width="1.75" stroke-linejoin="round" points="401.3,653.8 468.3,641.8 536.5,649.8"/>
<circle cx="401.3" cy="653.8" r="2.1" fill="#fff" stroke="#000" stroke-width="1.4"/>
<circle cx="468.3" cy="641.8" r="2.1" fill="#fff" stroke="#000" stroke-width="1.4"/>
<path d="M396.55 647.4H401.45M399 647.4V666.6M396.55 666.6H401.45" stroke="#0426ff" stroke-width="1.0" fill="none"/>
<path d="M463.55 567.1H468.45M466 567.1V601.5M463.55 601.5H468.45" stroke="#0426ff" stroke-width="1.0" fill="none"/>
<path d="M531.95 599.6H536.85M534.4 599.6V624.4M531.95 624.4H536.85" stroke="#0426ff" stroke-width="1.0" fill="none"/>
<path d="M599.25 598.6H604.15M601.7 598.6V623.8M599.25 623.8H604.15" stroke="#0426ff" stroke-width="1.0" fill="none"/>
<path d="M667.05 611.5H671.95M669.5 611.5V633.5M667.05 633.5H671.95" stroke="#0426ff" stroke-width="1.0" fill="none"/>
<polyline fill="none" stroke="#0426ff" stroke-width="1.75" stroke-linejoin="round" points="399,657 466,584.3 534.4,612 601.7,611.2 669.5,622.5"/>
<rect x="397" y="655" width="4" height="4" fill="#0426ff"/>
<rect x="464" y="582.3" width="4" height="4" fill="#0426ff"/>
<rect x="532.4" y="610" width="4" height="4" fill="#0426ff"/>
<rect x="599.7" y="609.2" width="4" height="4" fill="#0426ff"/>
<rect x="667.5" y="620.5" width="4" height="4" fill="#0426ff"/>
<path d="M533.7 639H539.3M536.5 639V660.6M533.7 660.6H539.3" stroke="#0426ff" stroke-width="1.0" fill="none"/>
<path d="M601 562H606.6M603.8 562V596.8M601 596.8H606.6" stroke="#0426ff" stroke-width="1.0" fill="none"/>
<path d="M668.8 570.7H674.4M671.6 570.7V604.3M668.8 604.3H674.4" stroke="#0426ff" stroke-width="1.0" fill="none"/>
<polyline fill="none" stroke="#0426ff" stroke-width="1.75" stroke-linejoin="round" points="536.5,649.8 603.8,579.4 671.6,587.5"/>
<circle cx="536.5" cy="649.8" r="2.45" fill="#fff" stroke="#0426ff" stroke-width="2"/>
<circle cx="603.8" cy="579.4" r="2.45" fill="#fff" stroke="#0426ff" stroke-width="2"/>
<circle cx="671.6" cy="587.5" r="2.45" fill="#fff" stroke="#0426ff" stroke-width="2"/>
<g>
<text class="pl" x="187.6" y="786.6">g</text>
<line x1="220.2" y1="774.4" x2="220.2" y2="961.8" stroke="#484848" stroke-width="1.6"/>
<line x1="219.4" y1="961" x2="500.2" y2="961" stroke="#505050" stroke-width="1.5"/>
<line x1="216.8" y1="961" x2="220.2" y2="961" stroke="#484848" stroke-width="1"/>
<text class="t" transform="translate(216.6 963.85) scale(0.904 1)" text-anchor="end">20</text>
<line x1="216.8" y1="918.5" x2="220.2" y2="918.5" stroke="#484848" stroke-width="1"/>
<text class="t" transform="translate(216.6 921.35) scale(0.904 1)" text-anchor="end">25</text>
<line x1="216.8" y1="876" x2="220.2" y2="876" stroke="#484848" stroke-width="1"/>
<text class="t" transform="translate(216.6 878.85) scale(0.904 1)" text-anchor="end">30</text>
<line x1="216.8" y1="833.5" x2="220.2" y2="833.5" stroke="#484848" stroke-width="1"/>
<text class="t" transform="translate(216.6 836.35) scale(0.904 1)" text-anchor="end">35</text>
<line x1="216.8" y1="791" x2="220.2" y2="791" stroke="#484848" stroke-width="1"/>
<text class="t" transform="translate(216.6 793.85) scale(0.904 1)" text-anchor="end">40</text>
<line x1="225.4" y1="961" x2="225.4" y2="963.2" stroke="#484848" stroke-width="1"/>
<text class="t" transform="translate(225.5 971.7) scale(0.904 1)" text-anchor="middle">0</text>
<g transform="translate(225.4 973.3)"><path d="M-3.8 13.2L-1.7 5.4" stroke="#000" stroke-width="1.85" fill="none"/><path d="M0 -0.5L0.6 6.4L-1.6 5.4L-4.7 4.8Z" fill="#000"/></g>
<line x1="247.9" y1="961" x2="247.9" y2="963.2" stroke="#484848" stroke-width="1"/>
<text class="t" transform="translate(248 971.7) scale(0.904 1)" text-anchor="middle">4</text>
<g transform="translate(247.82 973.3)"><path d="M-3.8 13.2L-1.7 5.4" stroke="#000" stroke-width="1.85" fill="none"/><path d="M0 -0.5L0.6 6.4L-1.6 5.4L-4.7 4.8Z" fill="#000"/></g>
<line x1="270.4" y1="961" x2="270.4" y2="963.2" stroke="#484848" stroke-width="1"/>
<text class="t" transform="translate(270.5 971.7) scale(0.904 1)" text-anchor="middle">8</text>
<g transform="translate(270.24 973.3)"><path d="M-3.8 13.2L-1.7 5.4" stroke="#000" stroke-width="1.85" fill="none"/><path d="M0 -0.5L0.6 6.4L-1.6 5.4L-4.7 4.8Z" fill="#000"/></g>
<line x1="292.9" y1="961" x2="292.9" y2="963.2" stroke="#484848" stroke-width="1"/>
<text class="t" transform="translate(293 971.7) scale(0.904 1)" text-anchor="middle">12</text>
<g transform="translate(292.66 973.3)"><path d="M-3.8 13.2L-1.7 5.4" stroke="#000" stroke-width="1.85" fill="none"/><path d="M0 -0.5L0.6 6.4L-1.6 5.4L-4.7 4.8Z" fill="#000"/></g>
<line x1="315.4" y1="961" x2="315.4" y2="963.2" stroke="#484848" stroke-width="1"/>
<text class="t" transform="translate(315.5 971.7) scale(0.904 1)" text-anchor="middle">16</text>
<g transform="translate(315.08 973.3)"><path d="M-3.8 13.2L-1.7 5.4" stroke="#000" stroke-width="1.85" fill="none"/><path d="M0 -0.5L0.6 6.4L-1.6 5.4L-4.7 4.8Z" fill="#000"/></g>
<line x1="337.9" y1="961" x2="337.9" y2="963.2" stroke="#484848" stroke-width="1"/>
<text class="t" transform="translate(338 971.7) scale(0.904 1)" text-anchor="middle">20</text>
<g transform="translate(337.5 973.3)"><path d="M-3.8 13.2L-1.7 5.4" stroke="#000" stroke-width="1.85" fill="none"/><path d="M0 -0.5L0.6 6.4L-1.6 5.4L-4.7 4.8Z" fill="#000"/></g>
<line x1="360.4" y1="961" x2="360.4" y2="963.2" stroke="#484848" stroke-width="1"/>
<text class="t" transform="translate(360.5 971.7) scale(0.904 1)" text-anchor="middle">24</text>
<g transform="translate(359.92 973.3)"><path d="M-3.8 13.2L-1.7 5.4" stroke="#000" stroke-width="1.85" fill="none"/><path d="M0 -0.5L0.6 6.4L-1.6 5.4L-4.7 4.8Z" fill="#000"/></g>
<line x1="382.9" y1="961" x2="382.9" y2="963.2" stroke="#484848" stroke-width="1"/>
<text class="t" transform="translate(383 971.7) scale(0.904 1)" text-anchor="middle">28</text>
<g transform="translate(382.34 973.3)"><path d="M-3.8 13.2L-1.7 5.4" stroke="#000" stroke-width="1.85" fill="none"/><path d="M0 -0.5L0.6 6.4L-1.6 5.4L-4.7 4.8Z" fill="#000"/></g>
<line x1="405.4" y1="961" x2="405.4" y2="963.2" stroke="#484848" stroke-width="1"/>
<text class="t" transform="translate(405.5 971.7) scale(0.904 1)" text-anchor="middle">32</text>
<g transform="translate(404.76 973.3)"><path d="M-3.8 13.2L-1.7 5.4" stroke="#000" stroke-width="1.85" fill="none"/><path d="M0 -0.5L0.6 6.4L-1.6 5.4L-4.7 4.8Z" fill="#000"/></g>
<line x1="427.9" y1="961" x2="427.9" y2="963.2" stroke="#484848" stroke-width="1"/>
<text class="t" transform="translate(428 971.7) scale(0.904 1)" text-anchor="middle">36</text>
<g transform="translate(427.18 973.3)"><path d="M-3.8 13.2L-1.7 5.4" stroke="#000" stroke-width="1.85" fill="none"/><path d="M0 -0.5L0.6 6.4L-1.6 5.4L-4.7 4.8Z" fill="#000"/></g>
<line x1="450.4" y1="961" x2="450.4" y2="963.2" stroke="#484848" stroke-width="1"/>
<text class="t" transform="translate(450.5 971.7) scale(0.904 1)" text-anchor="middle">40</text>
<g transform="translate(449.6 973.3)"><path d="M-3.8 13.2L-1.7 5.4" stroke="#000" stroke-width="1.85" fill="none"/><path d="M0 -0.5L0.6 6.4L-1.6 5.4L-4.7 4.8Z" fill="#000"/></g>
<line x1="472.9" y1="961" x2="472.9" y2="963.2" stroke="#484848" stroke-width="1"/>
<text class="t" transform="translate(473 971.7) scale(0.904 1)" text-anchor="middle">44</text>
<g transform="translate(472.02 973.3)"><path d="M-3.8 13.2L-1.7 5.4" stroke="#000" stroke-width="1.85" fill="none"/><path d="M0 -0.5L0.6 6.4L-1.6 5.4L-4.7 4.8Z" fill="#000"/></g>
<line x1="495.4" y1="961" x2="495.4" y2="963.2" stroke="#484848" stroke-width="1"/>
<text class="t" transform="translate(495.5 971.7) scale(0.904 1)" text-anchor="middle">48</text>
<g transform="translate(494.44 973.3)"><path d="M-3.8 13.2L-1.7 5.4" stroke="#000" stroke-width="1.85" fill="none"/><path d="M0 -0.5L0.6 6.4L-1.6 5.4L-4.7 4.8Z" fill="#000"/></g>
<text class="t" transform="translate(190.8 983) scale(0.904 1)">Doses</text>
<text class="wk" x="360.3" y="1001.8" text-anchor="middle">Weeks</text>
<line x1="360.5" y1="774.4" x2="360.5" y2="961" stroke="#000" stroke-width="1.0" stroke-dasharray="3.4 1.2"/>
<text class="yl" text-anchor="middle" transform="translate(193.3 866.9) rotate(-90) scale(1 0.9)">Serum BALP (<tspan font-style="italic">&#956;</tspan>g/L)</text>
</g>
<g>
<line x1="380" y1="930.8" x2="390.6" y2="930.8" stroke="#0426ff" stroke-width="1.75"/>
<rect x="382.8" y="928.25" width="5" height="4.9" fill="#0426ff"/>
<text class="lg" transform="translate(396.5 933.5) scale(0.9375 1)">Burosumab<tspan class="ar" dx="-1.15" dy="-0.7">&#8594;</tspan><tspan dx="-1.15" dy="0.7">Burosumab (</tspan><tspan font-style="italic">n</tspan>=68)</text>
<line x1="380" y1="942.5" x2="390.6" y2="942.5" stroke="#000" stroke-width="1.75"/>
<circle cx="385.3" cy="942.5" r="2.15" fill="#fff" stroke="#000" stroke-width="1.6"/>
<text class="lg" transform="translate(396.5 945.2) scale(0.9375 1)">Placebo<tspan class="ar" dx="-1.15" dy="-0.7">&#8594;</tspan><tspan dx="-1.15" dy="0.7">Burosumab (</tspan><tspan font-style="italic">n</tspan>=66)</text>
</g>
<path d="M223.9 903H229.5M226.7 903V939M223.9 939H229.5" stroke="#000" stroke-width="1.0" fill="none"/>
<path d="M291 916.6H296.6M293.8 916.6V947.4M291 947.4H296.6" stroke="#000" stroke-width="1.0" fill="none"/>
<polyline fill="none" stroke="#000" stroke-width="1.75" stroke-linejoin="round" points="226.7,921 293.8,932 362,910.3"/>
<circle cx="226.7" cy="921" r="2.1" fill="#fff" stroke="#000" stroke-width="1.4"/>
<circle cx="293.8" cy="932" r="2.1" fill="#fff" stroke="#000" stroke-width="1.4"/>
<path d="M222.05 906.4H226.95M224.5 906.4V947.8M222.05 947.8H226.95" stroke="#0426ff" stroke-width="1.0" fill="none"/>
<path d="M289.05 824.5H293.95M291.5 824.5V896.1M289.05 896.1H293.95" stroke="#0426ff" stroke-width="1.0" fill="none"/>
<path d="M356.75 846.7H361.65M359.2 846.7V901.9M356.75 901.9H361.65" stroke="#0426ff" stroke-width="1.0" fill="none"/>
<path d="M425.05 855.2H429.95M427.5 855.2V898.6M425.05 898.6H429.95" stroke="#0426ff" stroke-width="1.0" fill="none"/>
<path d="M492.35 885.6H497.25M494.8 885.6V927.6M492.35 927.6H497.25" stroke="#0426ff" stroke-width="1.0" fill="none"/>
<polyline fill="none" stroke="#0426ff" stroke-width="1.75" stroke-linejoin="round" points="224.5,927.1 291.5,860.3 359.2,874.3 427.5,876.9 494.8,906.6"/>
<rect x="222.5" y="925.1" width="4" height="4" fill="#0426ff"/>
<rect x="289.5" y="858.3" width="4" height="4" fill="#0426ff"/>
<rect x="357.2" y="872.3" width="4" height="4" fill="#0426ff"/>
<rect x="425.5" y="874.9" width="4" height="4" fill="#0426ff"/>
<rect x="492.8" y="904.6" width="4" height="4" fill="#0426ff"/>
<path d="M359.2 891.3H364.8M362 891.3V929.3M359.2 929.3H364.8" stroke="#0426ff" stroke-width="1.0" fill="none"/>
<path d="M426.5 805.6H432.1M429.3 805.6V853.6M426.5 853.6H432.1" stroke="#0426ff" stroke-width="1.0" fill="none"/>
<path d="M493.8 845.6H499.4M496.6 845.6V886.6M493.8 886.6H499.4" stroke="#0426ff" stroke-width="1.0" fill="none"/>
<polyline fill="none" stroke="#0426ff" stroke-width="1.75" stroke-linejoin="round" points="362,910.3 429.3,829.6 496.6,866.1"/>
<circle cx="362" cy="910.3" r="2.45" fill="#fff" stroke="#0426ff" stroke-width="2"/>
<circle cx="429.3" cy="829.6" r="2.45" fill="#fff" stroke="#0426ff" stroke-width="2"/>
<circle cx="496.6" cy="866.1" r="2.45" fill="#fff" stroke="#0426ff" stroke-width="2"/>
</svg>
</body>
</html>
